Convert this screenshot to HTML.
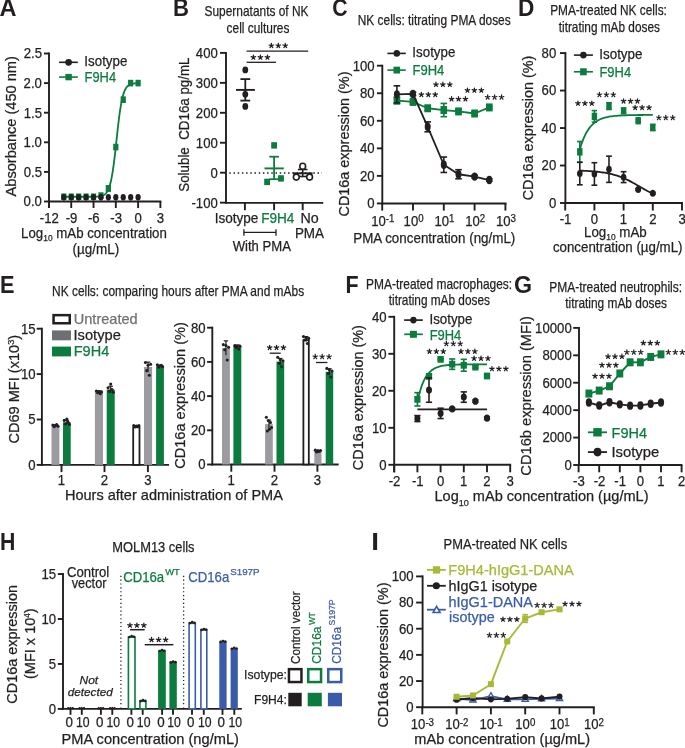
<!DOCTYPE html>
<html><head><meta charset="utf-8"><style>
html,body{margin:0;padding:0;background:#fff;overflow:hidden;}
svg{display:block;font-family:"Liberation Sans", sans-serif;will-change:transform;}
</style></head><body>
<svg width="685" height="748" viewBox="0 0 685 748" fill="#231f20">
<rect width="685" height="748" fill="#fff"/>
<text x="-0.59" y="15.80" font-size="23" textLength="17.01" lengthAdjust="spacingAndGlyphs" font-weight="bold">A</text>
<line x1="49.00" y1="52.55" x2="49.00" y2="202.45" stroke="#231f20" stroke-width="1.9"/>
<line x1="44.00" y1="201.50" x2="49.00" y2="201.50" stroke="#231f20" stroke-width="1.9"/>
<text x="23.62" y="206.40" font-size="14.0" textLength="18.29" lengthAdjust="spacingAndGlyphs" stroke="#231f20" stroke-width="0.25">0.0</text>
<line x1="44.00" y1="171.90" x2="49.00" y2="171.90" stroke="#231f20" stroke-width="1.9"/>
<text x="23.66" y="176.80" font-size="14.0" textLength="18.29" lengthAdjust="spacingAndGlyphs" stroke="#231f20" stroke-width="0.25">0.5</text>
<line x1="44.00" y1="142.30" x2="49.00" y2="142.30" stroke="#231f20" stroke-width="1.9"/>
<text x="23.62" y="147.20" font-size="14.0" textLength="18.29" lengthAdjust="spacingAndGlyphs" stroke="#231f20" stroke-width="0.25">1.0</text>
<line x1="44.00" y1="112.70" x2="49.00" y2="112.70" stroke="#231f20" stroke-width="1.9"/>
<text x="23.66" y="117.60" font-size="14.0" textLength="18.29" lengthAdjust="spacingAndGlyphs" stroke="#231f20" stroke-width="0.25">1.5</text>
<line x1="44.00" y1="83.10" x2="49.00" y2="83.10" stroke="#231f20" stroke-width="1.9"/>
<text x="23.62" y="88.00" font-size="14.0" textLength="18.29" lengthAdjust="spacingAndGlyphs" stroke="#231f20" stroke-width="0.25">2.0</text>
<line x1="44.00" y1="53.50" x2="49.00" y2="53.50" stroke="#231f20" stroke-width="1.9"/>
<text x="23.66" y="58.40" font-size="14.0" textLength="18.29" lengthAdjust="spacingAndGlyphs" stroke="#231f20" stroke-width="0.25">2.5</text>
<line x1="49.00" y1="201.50" x2="49.00" y2="208.00" stroke="#231f20" stroke-width="1.9"/>
<line x1="48.05" y1="201.50" x2="161.34" y2="201.50" stroke="#231f20" stroke-width="1.9"/>
<line x1="48.94" y1="201.50" x2="48.94" y2="208.00" stroke="#231f20" stroke-width="1.9"/>
<text x="39.77" y="222.50" font-size="14" textLength="19.02" lengthAdjust="spacingAndGlyphs" stroke="#231f20" stroke-width="0.25">-12</text>
<line x1="71.23" y1="201.50" x2="71.23" y2="208.00" stroke="#231f20" stroke-width="1.9"/>
<text x="65.70" y="222.50" font-size="14" textLength="11.70" lengthAdjust="spacingAndGlyphs" stroke="#231f20" stroke-width="0.25">-9</text>
<line x1="93.52" y1="201.50" x2="93.52" y2="208.00" stroke="#231f20" stroke-width="1.9"/>
<text x="87.97" y="222.50" font-size="14" textLength="11.70" lengthAdjust="spacingAndGlyphs" stroke="#231f20" stroke-width="0.25">-6</text>
<line x1="115.81" y1="201.50" x2="115.81" y2="208.00" stroke="#231f20" stroke-width="1.9"/>
<text x="110.26" y="222.50" font-size="14" textLength="11.70" lengthAdjust="spacingAndGlyphs" stroke="#231f20" stroke-width="0.25">-3</text>
<line x1="138.10" y1="201.50" x2="138.10" y2="208.00" stroke="#231f20" stroke-width="1.9"/>
<text x="134.44" y="222.50" font-size="14" textLength="7.32" lengthAdjust="spacingAndGlyphs" stroke="#231f20" stroke-width="0.25">0</text>
<line x1="160.39" y1="201.50" x2="160.39" y2="208.00" stroke="#231f20" stroke-width="1.9"/>
<text x="156.77" y="222.50" font-size="14" textLength="7.32" lengthAdjust="spacingAndGlyphs" stroke="#231f20" stroke-width="0.25">3</text>
<text x="21.11" y="237.50" font-size="14.4" textLength="145.75" lengthAdjust="spacingAndGlyphs" stroke="#231f20" stroke-width="0.25"><tspan>Log</tspan><tspan font-size="9.07" dy="3.90">10</tspan><tspan dy="-3.90"> mAb concentration</tspan></text>
<text x="72.56" y="253.60" font-size="14.4" textLength="46.67" lengthAdjust="spacingAndGlyphs" stroke="#231f20" stroke-width="0.25">(µg/mL)</text>
<text x="16.10" y="196.43" font-size="14.8" textLength="140.33" lengthAdjust="spacingAndGlyphs" transform="rotate(-90 16.10 196.43)" stroke="#231f20" stroke-width="0.25">Absorbance (450 nm)</text>
<polyline points="63.80,196.76 64.17,196.76 64.54,196.76 64.91,196.76 65.29,196.76 65.66,196.76 66.03,196.76 66.40,196.76 66.77,196.76 67.14,196.76 67.52,196.76 67.89,196.76 68.26,196.76 68.63,196.76 69.00,196.76 69.37,196.76 69.74,196.76 70.12,196.76 70.49,196.76 70.86,196.76 71.23,196.76 71.60,196.76 71.97,196.76 72.34,196.76 72.72,196.76 73.09,196.76 73.46,196.76 73.83,196.76 74.20,196.76 74.57,196.76 74.94,196.76 75.32,196.76 75.69,196.76 76.06,196.76 76.43,196.76 76.80,196.76 77.17,196.76 77.55,196.76 77.92,196.76 78.29,196.76 78.66,196.76 79.03,196.76 79.40,196.76 79.77,196.76 80.15,196.76 80.52,196.76 80.89,196.76 81.26,196.76 81.63,196.76 82.00,196.76 82.38,196.76 82.75,196.76 83.12,196.76 83.49,196.76 83.86,196.76 84.23,196.76 84.60,196.76 84.98,196.76 85.35,196.76 85.72,196.76 86.09,196.76 86.46,196.76 86.83,196.76 87.20,196.76 87.58,196.75 87.95,196.75 88.32,196.75 88.69,196.75 89.06,196.75 89.43,196.75 89.80,196.75 90.18,196.74 90.55,196.74 90.92,196.74 91.29,196.73 91.66,196.73 92.03,196.73 92.41,196.72 92.78,196.71 93.15,196.71 93.52,196.70 93.89,196.69 94.26,196.68 94.63,196.67 95.01,196.66 95.38,196.65 95.75,196.63 96.12,196.62 96.49,196.60 96.86,196.58 97.23,196.55 97.61,196.53 97.98,196.50 98.35,196.46 98.72,196.42 99.09,196.38 99.46,196.33 99.84,196.27 100.21,196.21 100.58,196.14 100.95,196.06 101.32,195.97 101.69,195.87 102.06,195.75 102.44,195.63 102.81,195.48 103.18,195.32 103.55,195.14 103.92,194.93 104.29,194.70 104.66,194.44 105.04,194.15 105.41,193.82 105.78,193.45 106.15,193.04 106.52,192.58 106.89,192.06 107.27,191.49 107.64,190.84 108.01,190.13 108.38,189.33 108.75,188.44 109.12,187.46 109.49,186.38 109.87,185.18 110.24,183.86 110.61,182.41 110.98,180.82 111.35,179.09 111.72,177.21 112.09,175.18 112.47,172.99 112.84,170.63 113.21,168.12 113.58,165.45 113.95,162.64 114.32,159.68 114.70,156.60 115.07,153.41 115.44,150.13 115.81,146.77 116.18,143.36 116.55,139.93 116.92,136.50 117.30,133.10 117.67,129.74 118.04,126.45 118.41,123.26 118.78,120.18 119.15,117.23 119.52,114.41 119.90,111.74 120.27,109.23 120.64,106.88 121.01,104.69 121.38,102.65 121.75,100.77 122.13,99.04 122.50,97.45 122.87,96.01 123.24,94.69 123.61,93.49 123.98,92.40 124.35,91.42 124.73,90.53 125.10,89.74 125.47,89.02 125.84,88.38 126.21,87.80 126.58,87.29 126.95,86.83 127.33,86.41 127.70,86.05 128.07,85.72 128.44,85.43 128.81,85.17 129.18,84.93 129.56,84.73 129.93,84.55 130.30,84.38 130.67,84.24 131.04,84.11 131.41,84.00 131.78,83.89 132.16,83.80 132.53,83.72 132.90,83.65 133.27,83.59 133.64,83.54 134.01,83.49 134.38,83.44 134.76,83.40 135.13,83.37 135.50,83.34 135.87,83.31 136.24,83.29 136.61,83.27 136.99,83.25 137.36,83.23 137.73,83.22 138.10,83.20" fill="none" stroke="#0b7b3e" stroke-width="1.8" stroke-linejoin="round"/>
<rect x="61.20" y="193.46" width="5.2" height="6.6" fill="#0b7b3e"/>
<rect x="68.63" y="193.46" width="5.2" height="6.6" fill="#0b7b3e"/>
<rect x="76.06" y="193.46" width="5.2" height="6.6" fill="#0b7b3e"/>
<rect x="83.49" y="193.46" width="5.2" height="6.6" fill="#0b7b3e"/>
<rect x="90.92" y="193.46" width="5.2" height="6.6" fill="#0b7b3e"/>
<rect x="98.35" y="192.28" width="5.2" height="6.6" fill="#0b7b3e"/>
<rect x="105.78" y="185.18" width="5.2" height="6.6" fill="#0b7b3e"/>
<rect x="113.21" y="143.74" width="5.2" height="6.6" fill="#0b7b3e"/>
<rect x="120.64" y="96.38" width="5.2" height="6.6" fill="#0b7b3e"/>
<rect x="128.07" y="79.80" width="5.2" height="6.6" fill="#0b7b3e"/>
<rect x="135.50" y="79.80" width="5.2" height="6.6" fill="#0b7b3e"/>
<line x1="108.38" y1="186.11" x2="108.38" y2="190.84" stroke="#0b7b3e" stroke-width="1.5"/>
<line x1="105.78" y1="186.11" x2="110.98" y2="186.11" stroke="#0b7b3e" stroke-width="1.5"/>
<line x1="105.78" y1="190.84" x2="110.98" y2="190.84" stroke="#0b7b3e" stroke-width="1.5"/>
<ellipse cx="63.80" cy="197.36" rx="2.6" ry="3.3" fill="#231f20"/>
<ellipse cx="71.23" cy="197.36" rx="2.6" ry="3.3" fill="#231f20"/>
<ellipse cx="78.66" cy="197.36" rx="2.6" ry="3.3" fill="#231f20"/>
<ellipse cx="86.09" cy="197.36" rx="2.6" ry="3.3" fill="#231f20"/>
<ellipse cx="93.52" cy="197.36" rx="2.6" ry="3.3" fill="#231f20"/>
<ellipse cx="100.95" cy="197.36" rx="2.6" ry="3.3" fill="#231f20"/>
<ellipse cx="108.38" cy="197.36" rx="2.6" ry="3.3" fill="#231f20"/>
<ellipse cx="115.81" cy="197.36" rx="2.6" ry="3.3" fill="#231f20"/>
<ellipse cx="123.24" cy="197.36" rx="2.6" ry="3.3" fill="#231f20"/>
<ellipse cx="130.67" cy="197.36" rx="2.6" ry="3.3" fill="#231f20"/>
<ellipse cx="138.10" cy="197.36" rx="2.6" ry="3.3" fill="#231f20"/>
<line x1="59.10" y1="62.30" x2="77.80" y2="62.30" stroke="#231f20" stroke-width="1.6"/>
<circle cx="68.60" cy="62.30" r="3.4" fill="#231f20"/>
<text x="84.37" y="65.80" font-size="14.0" textLength="43.02" lengthAdjust="spacingAndGlyphs" stroke="#231f20" stroke-width="0.25">Isotype</text>
<line x1="59.10" y1="77.10" x2="77.80" y2="77.10" stroke="#0b7b3e" stroke-width="1.6"/>
<rect x="65.40" y="73.90" width="6.4" height="6.4" fill="#0b7b3e"/>
<text x="84.54" y="81.80" font-size="14.0" fill="#0b7b3e" textLength="31.54" lengthAdjust="spacingAndGlyphs" stroke="#0b7b3e" stroke-width="0.25">F9H4</text>
<text x="173.12" y="15.80" font-size="23" textLength="15.99" lengthAdjust="spacingAndGlyphs" font-weight="bold">B</text>
<text x="204.56" y="15.60" font-size="14.5" textLength="103.97" lengthAdjust="spacingAndGlyphs" stroke="#231f20" stroke-width="0.25">Supernatants of NK</text>
<text x="226.59" y="32.80" font-size="14.5" textLength="62.84" lengthAdjust="spacingAndGlyphs" stroke="#231f20" stroke-width="0.25">cell cultures</text>
<line x1="226.00" y1="51.95" x2="226.00" y2="203.60" stroke="#231f20" stroke-width="1.9"/>
<line x1="220.00" y1="52.90" x2="226.00" y2="52.90" stroke="#231f20" stroke-width="1.9"/>
<text x="195.86" y="57.80" font-size="14.0" textLength="21.96" lengthAdjust="spacingAndGlyphs" stroke="#231f20" stroke-width="0.25">400</text>
<line x1="220.00" y1="82.85" x2="226.00" y2="82.85" stroke="#231f20" stroke-width="1.9"/>
<text x="195.86" y="87.75" font-size="14.0" textLength="21.96" lengthAdjust="spacingAndGlyphs" stroke="#231f20" stroke-width="0.25">300</text>
<line x1="220.00" y1="112.80" x2="226.00" y2="112.80" stroke="#231f20" stroke-width="1.9"/>
<text x="195.86" y="117.70" font-size="14.0" textLength="21.96" lengthAdjust="spacingAndGlyphs" stroke="#231f20" stroke-width="0.25">200</text>
<line x1="220.00" y1="142.75" x2="226.00" y2="142.75" stroke="#231f20" stroke-width="1.9"/>
<text x="195.86" y="147.65" font-size="14.0" textLength="21.96" lengthAdjust="spacingAndGlyphs" stroke="#231f20" stroke-width="0.25">100</text>
<line x1="220.00" y1="172.70" x2="226.00" y2="172.70" stroke="#231f20" stroke-width="1.9"/>
<text x="210.50" y="177.60" font-size="14.0" textLength="7.32" lengthAdjust="spacingAndGlyphs" stroke="#231f20" stroke-width="0.25">0</text>
<line x1="220.00" y1="202.65" x2="226.00" y2="202.65" stroke="#231f20" stroke-width="1.9"/>
<text x="191.47" y="207.55" font-size="14.0" textLength="26.34" lengthAdjust="spacingAndGlyphs" stroke="#231f20" stroke-width="0.25">-100</text>
<line x1="225.05" y1="202.90" x2="323.25" y2="202.90" stroke="#231f20" stroke-width="1.9"/>
<line x1="244.90" y1="202.90" x2="244.90" y2="210.20" stroke="#231f20" stroke-width="1.9"/>
<line x1="274.10" y1="202.90" x2="274.10" y2="210.20" stroke="#231f20" stroke-width="1.9"/>
<line x1="302.70" y1="202.90" x2="302.70" y2="210.20" stroke="#231f20" stroke-width="1.9"/>
<text x="214.65" y="222.50" font-size="14.0" textLength="43.76" lengthAdjust="spacingAndGlyphs" stroke="#231f20" stroke-width="0.25">Isotype</text>
<text x="261.19" y="222.50" font-size="14.0" fill="#0b7b3e" textLength="33.21" lengthAdjust="spacingAndGlyphs" stroke="#0b7b3e" stroke-width="0.25">F9H4</text>
<text x="300.43" y="222.50" font-size="14.0" textLength="18.27" lengthAdjust="spacingAndGlyphs" stroke="#231f20" stroke-width="0.25">No</text>
<text x="294.90" y="237.80" font-size="14.0" textLength="29.13" lengthAdjust="spacingAndGlyphs" stroke="#231f20" stroke-width="0.25">PMA</text>
<line x1="243.90" y1="232.40" x2="276.00" y2="232.40" stroke="#231f20" stroke-width="1.3"/>
<line x1="243.90" y1="229.20" x2="243.90" y2="235.80" stroke="#231f20" stroke-width="1.3"/>
<line x1="276.00" y1="229.20" x2="276.00" y2="235.80" stroke="#231f20" stroke-width="1.3"/>
<text x="232.64" y="251.10" font-size="14.0" textLength="58.28" lengthAdjust="spacingAndGlyphs" stroke="#231f20" stroke-width="0.25">With PMA</text>
<text x="189.40" y="191.71" font-size="14.6" textLength="134.25" lengthAdjust="spacingAndGlyphs" transform="rotate(-90 189.40 191.71)" stroke="#231f20" stroke-width="0.25">Soluble  CD16a pg/mL</text>
<line x1="229.30" y1="173.10" x2="322.00" y2="173.10" stroke="#231f20" stroke-width="1.5" stroke-dasharray="1.5 2.7"/>
<line x1="246.60" y1="51.20" x2="308.20" y2="51.20" stroke="#231f20" stroke-width="1.3"/>
<path d="M271.36,45.70L271.36,43.35M271.36,45.70L273.59,44.97M271.36,45.70L272.74,47.60M271.36,45.70L269.98,47.60M271.36,45.70L269.12,44.97" stroke="#231f20" stroke-width="1.25" stroke-linecap="round" fill="none"/>
<path d="M278.30,45.70L278.30,43.35M278.30,45.70L280.53,44.97M278.30,45.70L279.68,47.60M278.30,45.70L276.92,47.60M278.30,45.70L276.07,44.97" stroke="#231f20" stroke-width="1.25" stroke-linecap="round" fill="none"/>
<path d="M285.24,45.70L285.24,43.35M285.24,45.70L287.48,44.97M285.24,45.70L286.62,47.60M285.24,45.70L283.86,47.60M285.24,45.70L283.01,44.97" stroke="#231f20" stroke-width="1.25" stroke-linecap="round" fill="none"/>
<line x1="246.60" y1="62.30" x2="276.10" y2="62.30" stroke="#231f20" stroke-width="1.3"/>
<path d="M253.36,57.35L253.36,55.00M253.36,57.35L255.59,56.62M253.36,57.35L254.74,59.25M253.36,57.35L251.98,59.25M253.36,57.35L251.12,56.62" stroke="#231f20" stroke-width="1.25" stroke-linecap="round" fill="none"/>
<path d="M260.40,57.35L260.40,55.00M260.40,57.35L262.63,56.62M260.40,57.35L261.78,59.25M260.40,57.35L259.02,59.25M260.40,57.35L258.17,56.62" stroke="#231f20" stroke-width="1.25" stroke-linecap="round" fill="none"/>
<path d="M267.44,57.35L267.44,55.00M267.44,57.35L269.68,56.62M267.44,57.35L268.82,59.25M267.44,57.35L266.06,59.25M267.44,57.35L265.21,56.62" stroke="#231f20" stroke-width="1.25" stroke-linecap="round" fill="none"/>
<line x1="245.30" y1="79.10" x2="245.30" y2="100.60" stroke="#231f20" stroke-width="1.8"/>
<line x1="240.40" y1="79.10" x2="250.20" y2="79.10" stroke="#231f20" stroke-width="1.8"/>
<line x1="240.40" y1="100.60" x2="250.20" y2="100.60" stroke="#231f20" stroke-width="1.8"/>
<line x1="236.00" y1="89.90" x2="254.90" y2="89.90" stroke="#231f20" stroke-width="1.9"/>
<ellipse cx="245.3" cy="69.9" rx="2.9" ry="3.4" fill="#231f20"/>
<ellipse cx="245.3" cy="94.3" rx="2.9" ry="3.4" fill="#231f20"/>
<ellipse cx="245.3" cy="106.4" rx="2.9" ry="3.4" fill="#231f20"/>
<line x1="274.10" y1="156.70" x2="274.10" y2="179.20" stroke="#0b7b3e" stroke-width="1.8"/>
<line x1="269.30" y1="156.70" x2="278.90" y2="156.70" stroke="#0b7b3e" stroke-width="1.8"/>
<line x1="269.30" y1="179.20" x2="278.90" y2="179.20" stroke="#0b7b3e" stroke-width="1.8"/>
<line x1="264.50" y1="168.40" x2="283.80" y2="168.40" stroke="#0b7b3e" stroke-width="1.9"/>
<rect x="271.20" y="142.20" width="5.8" height="6.4" fill="#0b7b3e"/>
<rect x="264.20" y="178.70" width="5.8" height="6.4" fill="#0b7b3e"/>
<rect x="278.10" y="175.20" width="5.8" height="6.4" fill="#0b7b3e"/>
<line x1="292.80" y1="173.30" x2="312.60" y2="173.30" stroke="#231f20" stroke-width="1.9"/>
<line x1="302.70" y1="169.50" x2="302.70" y2="176.50" stroke="#231f20" stroke-width="1.6"/>
<line x1="297.90" y1="169.50" x2="307.50" y2="169.50" stroke="#231f20" stroke-width="1.6"/>
<line x1="297.90" y1="176.50" x2="307.50" y2="176.50" stroke="#231f20" stroke-width="1.6"/>
<ellipse cx="302.7" cy="166.3" rx="2.9" ry="3.0" fill="white" stroke="#231f20" stroke-width="1.6"/>
<ellipse cx="296.3" cy="177.1" rx="2.9" ry="3.0" fill="white" stroke="#231f20" stroke-width="1.6"/>
<ellipse cx="309.6" cy="177.1" rx="2.9" ry="3.0" fill="white" stroke="#231f20" stroke-width="1.6"/>
<text x="332.33" y="15.80" font-size="23" textLength="15.35" lengthAdjust="spacingAndGlyphs" font-weight="bold">C</text>
<text x="357.73" y="25.10" font-size="14.3" textLength="153.00" lengthAdjust="spacingAndGlyphs" stroke="#231f20" stroke-width="0.25">NK cells: titrating PMA doses</text>
<line x1="382.30" y1="64.75" x2="382.30" y2="204.40" stroke="#231f20" stroke-width="1.9"/>
<line x1="376.90" y1="203.45" x2="382.30" y2="203.45" stroke="#231f20" stroke-width="1.9"/>
<text x="367.30" y="208.35" font-size="14.0" textLength="7.32" lengthAdjust="spacingAndGlyphs" stroke="#231f20" stroke-width="0.25">0</text>
<line x1="376.90" y1="175.90" x2="382.30" y2="175.90" stroke="#231f20" stroke-width="1.9"/>
<text x="359.98" y="180.80" font-size="14.0" textLength="14.64" lengthAdjust="spacingAndGlyphs" stroke="#231f20" stroke-width="0.25">20</text>
<line x1="376.90" y1="148.35" x2="382.30" y2="148.35" stroke="#231f20" stroke-width="1.9"/>
<text x="359.98" y="153.25" font-size="14.0" textLength="14.64" lengthAdjust="spacingAndGlyphs" stroke="#231f20" stroke-width="0.25">40</text>
<line x1="376.90" y1="120.80" x2="382.30" y2="120.80" stroke="#231f20" stroke-width="1.9"/>
<text x="359.98" y="125.70" font-size="14.0" textLength="14.64" lengthAdjust="spacingAndGlyphs" stroke="#231f20" stroke-width="0.25">60</text>
<line x1="376.90" y1="93.25" x2="382.30" y2="93.25" stroke="#231f20" stroke-width="1.9"/>
<text x="359.98" y="98.15" font-size="14.0" textLength="14.64" lengthAdjust="spacingAndGlyphs" stroke="#231f20" stroke-width="0.25">80</text>
<line x1="376.90" y1="65.70" x2="382.30" y2="65.70" stroke="#231f20" stroke-width="1.9"/>
<text x="352.66" y="70.60" font-size="14.0" textLength="21.96" lengthAdjust="spacingAndGlyphs" stroke="#231f20" stroke-width="0.25">100</text>
<line x1="381.35" y1="203.45" x2="506.55" y2="203.45" stroke="#231f20" stroke-width="1.9"/>
<line x1="382.20" y1="203.45" x2="382.20" y2="210.60" stroke="#231f20" stroke-width="1.9"/>
<line x1="413.00" y1="203.45" x2="413.00" y2="210.60" stroke="#231f20" stroke-width="1.9"/>
<line x1="443.80" y1="203.45" x2="443.80" y2="210.60" stroke="#231f20" stroke-width="1.9"/>
<line x1="474.60" y1="203.45" x2="474.60" y2="210.60" stroke="#231f20" stroke-width="1.9"/>
<line x1="505.40" y1="203.45" x2="505.40" y2="210.60" stroke="#231f20" stroke-width="1.9"/>
<text x="371.23" y="225.60" font-size="13.8" textLength="23.21" lengthAdjust="spacingAndGlyphs" stroke="#231f20" stroke-width="0.25"><tspan>10</tspan><tspan font-size="10.21" dy="-3.20">-1</tspan></text>
<text x="403.60" y="225.60" font-size="13.8" textLength="19.98" lengthAdjust="spacingAndGlyphs" stroke="#231f20" stroke-width="0.25"><tspan>10</tspan><tspan font-size="10.21" dy="-3.20">0</tspan></text>
<text x="434.45" y="225.60" font-size="13.8" textLength="19.98" lengthAdjust="spacingAndGlyphs" stroke="#231f20" stroke-width="0.25"><tspan>10</tspan><tspan font-size="10.21" dy="-3.20">1</tspan></text>
<text x="465.26" y="225.60" font-size="13.8" textLength="19.98" lengthAdjust="spacingAndGlyphs" stroke="#231f20" stroke-width="0.25"><tspan>10</tspan><tspan font-size="10.21" dy="-3.20">2</tspan></text>
<text x="496.02" y="225.60" font-size="13.8" textLength="19.98" lengthAdjust="spacingAndGlyphs" stroke="#231f20" stroke-width="0.25"><tspan>10</tspan><tspan font-size="10.21" dy="-3.20">3</tspan></text>
<text x="353.21" y="242.80" font-size="14.4" textLength="162.12" lengthAdjust="spacingAndGlyphs" stroke="#231f20" stroke-width="0.25">PMA concentration (ng/mL)</text>
<text x="348.80" y="216.53" font-size="15.0" textLength="145.03" lengthAdjust="spacingAndGlyphs" transform="rotate(-90 348.80 216.53)" stroke="#231f20" stroke-width="0.25">CD16a expression (%)</text>
<line x1="387.40" y1="53.40" x2="405.80" y2="53.40" stroke="#231f20" stroke-width="1.6"/>
<ellipse cx="396.80" cy="53.40" rx="3.2" ry="3.3" fill="#231f20"/>
<text x="412.37" y="56.90" font-size="14.0" textLength="43.02" lengthAdjust="spacingAndGlyphs" stroke="#231f20" stroke-width="0.25">Isotype</text>
<line x1="387.40" y1="70.10" x2="405.80" y2="70.10" stroke="#0b7b3e" stroke-width="1.6"/>
<rect x="393.50" y="66.70" width="6.6" height="6.8" fill="#0b7b3e"/>
<text x="412.53" y="75.30" font-size="14.0" fill="#0b7b3e" textLength="31.85" lengthAdjust="spacingAndGlyphs" stroke="#0b7b3e" stroke-width="0.25">F9H4</text>
<polyline points="396.90,100.55 413.00,101.93 427.70,108.26 443.80,110.06 458.50,111.43 474.60,113.50 489.30,107.44" fill="none" stroke="#0b7b3e" stroke-width="1.8" stroke-linejoin="round"/>
<line x1="396.90" y1="97.52" x2="396.90" y2="103.58" stroke="#0b7b3e" stroke-width="1.6"/>
<line x1="393.60" y1="97.52" x2="400.20" y2="97.52" stroke="#0b7b3e" stroke-width="1.6"/>
<line x1="393.60" y1="103.58" x2="400.20" y2="103.58" stroke="#0b7b3e" stroke-width="1.6"/>
<rect x="393.60" y="96.55" width="6.6" height="8.0" fill="#0b7b3e"/>
<line x1="413.00" y1="99.86" x2="413.00" y2="103.99" stroke="#0b7b3e" stroke-width="1.6"/>
<line x1="409.70" y1="99.86" x2="416.30" y2="99.86" stroke="#0b7b3e" stroke-width="1.6"/>
<line x1="409.70" y1="103.99" x2="416.30" y2="103.99" stroke="#0b7b3e" stroke-width="1.6"/>
<rect x="409.70" y="97.93" width="6.6" height="8.0" fill="#0b7b3e"/>
<line x1="427.70" y1="106.20" x2="427.70" y2="110.33" stroke="#0b7b3e" stroke-width="1.6"/>
<line x1="424.40" y1="106.20" x2="431.00" y2="106.20" stroke="#0b7b3e" stroke-width="1.6"/>
<line x1="424.40" y1="110.33" x2="431.00" y2="110.33" stroke="#0b7b3e" stroke-width="1.6"/>
<rect x="424.40" y="104.26" width="6.6" height="8.0" fill="#0b7b3e"/>
<line x1="443.80" y1="103.44" x2="443.80" y2="116.67" stroke="#0b7b3e" stroke-width="1.6"/>
<line x1="440.50" y1="103.44" x2="447.10" y2="103.44" stroke="#0b7b3e" stroke-width="1.6"/>
<line x1="440.50" y1="116.67" x2="447.10" y2="116.67" stroke="#0b7b3e" stroke-width="1.6"/>
<rect x="440.50" y="106.06" width="6.6" height="8.0" fill="#0b7b3e"/>
<line x1="458.50" y1="109.37" x2="458.50" y2="113.50" stroke="#0b7b3e" stroke-width="1.6"/>
<line x1="455.20" y1="109.37" x2="461.80" y2="109.37" stroke="#0b7b3e" stroke-width="1.6"/>
<line x1="455.20" y1="113.50" x2="461.80" y2="113.50" stroke="#0b7b3e" stroke-width="1.6"/>
<rect x="455.20" y="107.43" width="6.6" height="8.0" fill="#0b7b3e"/>
<line x1="474.60" y1="111.43" x2="474.60" y2="115.57" stroke="#0b7b3e" stroke-width="1.6"/>
<line x1="471.30" y1="111.43" x2="477.90" y2="111.43" stroke="#0b7b3e" stroke-width="1.6"/>
<line x1="471.30" y1="115.57" x2="477.90" y2="115.57" stroke="#0b7b3e" stroke-width="1.6"/>
<rect x="471.30" y="109.50" width="6.6" height="8.0" fill="#0b7b3e"/>
<line x1="489.30" y1="106.06" x2="489.30" y2="108.82" stroke="#0b7b3e" stroke-width="1.6"/>
<line x1="486.00" y1="106.06" x2="492.60" y2="106.06" stroke="#0b7b3e" stroke-width="1.6"/>
<line x1="486.00" y1="108.82" x2="492.60" y2="108.82" stroke="#0b7b3e" stroke-width="1.6"/>
<rect x="486.00" y="103.44" width="6.6" height="8.0" fill="#0b7b3e"/>
<polyline points="396.90,94.35 413.00,93.94 427.70,126.86 443.80,164.74 458.50,174.25 474.60,176.59 489.30,180.03" fill="none" stroke="#231f20" stroke-width="1.8" stroke-linejoin="round"/>
<line x1="396.90" y1="85.81" x2="396.90" y2="102.89" stroke="#231f20" stroke-width="1.6"/>
<line x1="393.60" y1="85.81" x2="400.20" y2="85.81" stroke="#231f20" stroke-width="1.6"/>
<line x1="393.60" y1="102.89" x2="400.20" y2="102.89" stroke="#231f20" stroke-width="1.6"/>
<ellipse cx="396.90" cy="94.35" rx="3.0" ry="4.2" fill="#231f20"/>
<line x1="413.00" y1="92.29" x2="413.00" y2="95.59" stroke="#231f20" stroke-width="1.6"/>
<line x1="409.70" y1="92.29" x2="416.30" y2="92.29" stroke="#231f20" stroke-width="1.6"/>
<line x1="409.70" y1="95.59" x2="416.30" y2="95.59" stroke="#231f20" stroke-width="1.6"/>
<ellipse cx="413.00" cy="93.94" rx="3.0" ry="4.2" fill="#231f20"/>
<line x1="427.70" y1="121.90" x2="427.70" y2="131.82" stroke="#231f20" stroke-width="1.6"/>
<line x1="424.40" y1="121.90" x2="431.00" y2="121.90" stroke="#231f20" stroke-width="1.6"/>
<line x1="424.40" y1="131.82" x2="431.00" y2="131.82" stroke="#231f20" stroke-width="1.6"/>
<ellipse cx="427.70" cy="126.86" rx="3.0" ry="4.2" fill="#231f20"/>
<line x1="443.80" y1="157.03" x2="443.80" y2="172.46" stroke="#231f20" stroke-width="1.6"/>
<line x1="440.50" y1="157.03" x2="447.10" y2="157.03" stroke="#231f20" stroke-width="1.6"/>
<line x1="440.50" y1="172.46" x2="447.10" y2="172.46" stroke="#231f20" stroke-width="1.6"/>
<ellipse cx="443.80" cy="164.74" rx="3.0" ry="4.2" fill="#231f20"/>
<line x1="458.50" y1="169.70" x2="458.50" y2="178.79" stroke="#231f20" stroke-width="1.6"/>
<line x1="455.20" y1="169.70" x2="461.80" y2="169.70" stroke="#231f20" stroke-width="1.6"/>
<line x1="455.20" y1="178.79" x2="461.80" y2="178.79" stroke="#231f20" stroke-width="1.6"/>
<ellipse cx="458.50" cy="174.25" rx="3.0" ry="4.2" fill="#231f20"/>
<line x1="474.60" y1="175.21" x2="474.60" y2="177.97" stroke="#231f20" stroke-width="1.6"/>
<line x1="471.30" y1="175.21" x2="477.90" y2="175.21" stroke="#231f20" stroke-width="1.6"/>
<line x1="471.30" y1="177.97" x2="477.90" y2="177.97" stroke="#231f20" stroke-width="1.6"/>
<ellipse cx="474.60" cy="176.59" rx="3.0" ry="4.2" fill="#231f20"/>
<line x1="489.30" y1="178.93" x2="489.30" y2="181.13" stroke="#231f20" stroke-width="1.6"/>
<line x1="486.00" y1="178.93" x2="492.60" y2="178.93" stroke="#231f20" stroke-width="1.6"/>
<line x1="486.00" y1="181.13" x2="492.60" y2="181.13" stroke="#231f20" stroke-width="1.6"/>
<ellipse cx="489.30" cy="180.03" rx="3.0" ry="4.2" fill="#231f20"/>
<path d="M421.36,94.65L421.36,92.30M421.36,94.65L423.59,93.92M421.36,94.65L422.74,96.55M421.36,94.65L419.98,96.55M421.36,94.65L419.12,93.92" stroke="#231f20" stroke-width="1.25" stroke-linecap="round" fill="none"/>
<path d="M428.30,94.65L428.30,92.30M428.30,94.65L430.53,93.92M428.30,94.65L429.68,96.55M428.30,94.65L426.92,96.55M428.30,94.65L426.07,93.92" stroke="#231f20" stroke-width="1.25" stroke-linecap="round" fill="none"/>
<path d="M435.24,94.65L435.24,92.30M435.24,94.65L437.48,93.92M435.24,94.65L436.62,96.55M435.24,94.65L433.86,96.55M435.24,94.65L433.01,93.92" stroke="#231f20" stroke-width="1.25" stroke-linecap="round" fill="none"/>
<path d="M435.96,84.55L435.96,82.20M435.96,84.55L438.19,83.82M435.96,84.55L437.34,86.45M435.96,84.55L434.58,86.45M435.96,84.55L433.72,83.82" stroke="#231f20" stroke-width="1.25" stroke-linecap="round" fill="none"/>
<path d="M442.90,84.55L442.90,82.20M442.90,84.55L445.13,83.82M442.90,84.55L444.28,86.45M442.90,84.55L441.52,86.45M442.90,84.55L440.67,83.82" stroke="#231f20" stroke-width="1.25" stroke-linecap="round" fill="none"/>
<path d="M449.84,84.55L449.84,82.20M449.84,84.55L452.08,83.82M449.84,84.55L451.22,86.45M449.84,84.55L448.46,86.45M449.84,84.55L447.61,83.82" stroke="#231f20" stroke-width="1.25" stroke-linecap="round" fill="none"/>
<path d="M451.56,99.05L451.56,96.70M451.56,99.05L453.79,98.32M451.56,99.05L452.94,100.95M451.56,99.05L450.18,100.95M451.56,99.05L449.32,98.32" stroke="#231f20" stroke-width="1.25" stroke-linecap="round" fill="none"/>
<path d="M458.50,99.05L458.50,96.70M458.50,99.05L460.73,98.32M458.50,99.05L459.88,100.95M458.50,99.05L457.12,100.95M458.50,99.05L456.27,98.32" stroke="#231f20" stroke-width="1.25" stroke-linecap="round" fill="none"/>
<path d="M465.44,99.05L465.44,96.70M465.44,99.05L467.68,98.32M465.44,99.05L466.82,100.95M465.44,99.05L464.06,100.95M465.44,99.05L463.21,98.32" stroke="#231f20" stroke-width="1.25" stroke-linecap="round" fill="none"/>
<path d="M467.46,90.35L467.46,88.00M467.46,90.35L469.69,89.62M467.46,90.35L468.84,92.25M467.46,90.35L466.08,92.25M467.46,90.35L465.22,89.62" stroke="#231f20" stroke-width="1.25" stroke-linecap="round" fill="none"/>
<path d="M474.40,90.35L474.40,88.00M474.40,90.35L476.63,89.62M474.40,90.35L475.78,92.25M474.40,90.35L473.02,92.25M474.40,90.35L472.17,89.62" stroke="#231f20" stroke-width="1.25" stroke-linecap="round" fill="none"/>
<path d="M481.34,90.35L481.34,88.00M481.34,90.35L483.58,89.62M481.34,90.35L482.72,92.25M481.34,90.35L479.96,92.25M481.34,90.35L479.11,89.62" stroke="#231f20" stroke-width="1.25" stroke-linecap="round" fill="none"/>
<path d="M487.66,97.25L487.66,94.90M487.66,97.25L489.89,96.52M487.66,97.25L489.04,99.15M487.66,97.25L486.28,99.15M487.66,97.25L485.42,96.52" stroke="#231f20" stroke-width="1.25" stroke-linecap="round" fill="none"/>
<path d="M494.60,97.25L494.60,94.90M494.60,97.25L496.83,96.52M494.60,97.25L495.98,99.15M494.60,97.25L493.22,99.15M494.60,97.25L492.37,96.52" stroke="#231f20" stroke-width="1.25" stroke-linecap="round" fill="none"/>
<path d="M501.54,97.25L501.54,94.90M501.54,97.25L503.78,96.52M501.54,97.25L502.92,99.15M501.54,97.25L500.16,99.15M501.54,97.25L499.31,96.52" stroke="#231f20" stroke-width="1.25" stroke-linecap="round" fill="none"/>
<text x="517.98" y="15.80" font-size="23" textLength="16.37" lengthAdjust="spacingAndGlyphs" font-weight="bold">D</text>
<text x="550.13" y="14.70" font-size="14.3" textLength="116.76" lengthAdjust="spacingAndGlyphs" stroke="#231f20" stroke-width="0.25">PMA-treated NK cells:</text>
<text x="558.72" y="32.00" font-size="14.3" textLength="101.21" lengthAdjust="spacingAndGlyphs" stroke="#231f20" stroke-width="0.25">titrating mAb doses</text>
<line x1="565.40" y1="52.13" x2="565.40" y2="203.95" stroke="#231f20" stroke-width="1.9"/>
<line x1="560.00" y1="203.00" x2="565.40" y2="203.00" stroke="#231f20" stroke-width="1.9"/>
<text x="548.90" y="207.90" font-size="14.0" textLength="7.32" lengthAdjust="spacingAndGlyphs" stroke="#231f20" stroke-width="0.25">0</text>
<line x1="560.00" y1="165.52" x2="565.40" y2="165.52" stroke="#231f20" stroke-width="1.9"/>
<text x="541.58" y="170.42" font-size="14.0" textLength="14.64" lengthAdjust="spacingAndGlyphs" stroke="#231f20" stroke-width="0.25">20</text>
<line x1="560.00" y1="128.04" x2="565.40" y2="128.04" stroke="#231f20" stroke-width="1.9"/>
<text x="541.58" y="132.94" font-size="14.0" textLength="14.64" lengthAdjust="spacingAndGlyphs" stroke="#231f20" stroke-width="0.25">40</text>
<line x1="560.00" y1="90.56" x2="565.40" y2="90.56" stroke="#231f20" stroke-width="1.9"/>
<text x="541.58" y="95.46" font-size="14.0" textLength="14.64" lengthAdjust="spacingAndGlyphs" stroke="#231f20" stroke-width="0.25">60</text>
<line x1="560.00" y1="53.08" x2="565.40" y2="53.08" stroke="#231f20" stroke-width="1.9"/>
<text x="541.58" y="57.98" font-size="14.0" textLength="14.64" lengthAdjust="spacingAndGlyphs" stroke="#231f20" stroke-width="0.25">80</text>
<line x1="564.45" y1="203.00" x2="682.95" y2="203.00" stroke="#231f20" stroke-width="1.9"/>
<line x1="565.20" y1="203.00" x2="565.20" y2="210.50" stroke="#231f20" stroke-width="1.9"/>
<text x="559.68" y="223.50" font-size="14.0" textLength="11.70" lengthAdjust="spacingAndGlyphs" stroke="#231f20" stroke-width="0.25">-1</text>
<line x1="594.40" y1="203.00" x2="594.40" y2="210.50" stroke="#231f20" stroke-width="1.9"/>
<text x="590.74" y="223.50" font-size="14.0" textLength="7.32" lengthAdjust="spacingAndGlyphs" stroke="#231f20" stroke-width="0.25">0</text>
<line x1="623.60" y1="203.00" x2="623.60" y2="210.50" stroke="#231f20" stroke-width="1.9"/>
<text x="619.76" y="223.50" font-size="14.0" textLength="7.32" lengthAdjust="spacingAndGlyphs" stroke="#231f20" stroke-width="0.25">1</text>
<line x1="652.80" y1="203.00" x2="652.80" y2="210.50" stroke="#231f20" stroke-width="1.9"/>
<text x="649.14" y="223.50" font-size="14.0" textLength="7.32" lengthAdjust="spacingAndGlyphs" stroke="#231f20" stroke-width="0.25">2</text>
<line x1="682.00" y1="203.00" x2="682.00" y2="210.50" stroke="#231f20" stroke-width="1.9"/>
<text x="678.38" y="223.50" font-size="14.0" textLength="7.32" lengthAdjust="spacingAndGlyphs" stroke="#231f20" stroke-width="0.25">3</text>
<text x="584.01" y="236.50" font-size="14.4" textLength="62.75" lengthAdjust="spacingAndGlyphs" stroke="#231f20" stroke-width="0.25"><tspan>Log</tspan><tspan font-size="9.07" dy="3.90">10</tspan><tspan dy="-3.90"> mAb</tspan></text>
<text x="552.94" y="251.60" font-size="14.4" textLength="129.59" lengthAdjust="spacingAndGlyphs" stroke="#231f20" stroke-width="0.25">concentration (µg/mL)</text>
<text x="533.20" y="200.33" font-size="15.0" textLength="144.72" lengthAdjust="spacingAndGlyphs" transform="rotate(-90 533.20 200.33)" stroke="#231f20" stroke-width="0.25">CD16a expression (%)</text>
<line x1="573.90" y1="55.10" x2="592.90" y2="55.10" stroke="#231f20" stroke-width="1.6"/>
<ellipse cx="583.40" cy="55.10" rx="3.3" ry="3.4" fill="#231f20"/>
<text x="599.26" y="59.10" font-size="14.0" textLength="43.23" lengthAdjust="spacingAndGlyphs" stroke="#231f20" stroke-width="0.25">Isotype</text>
<line x1="573.90" y1="71.80" x2="592.90" y2="71.80" stroke="#0b7b3e" stroke-width="1.6"/>
<rect x="580.10" y="68.30" width="6.6" height="7.0" fill="#0b7b3e"/>
<text x="599.44" y="76.80" font-size="14.0" fill="#0b7b3e" textLength="31.64" lengthAdjust="spacingAndGlyphs" stroke="#0b7b3e" stroke-width="0.25">F9H4</text>
<polyline points="579.80,170.67 581.26,170.72 582.72,170.77 584.18,170.83 585.64,170.90 587.10,170.97 588.56,171.05 590.02,171.15 591.48,171.24 592.94,171.35 594.40,171.47 595.86,171.61 597.32,171.75 598.78,171.91 600.24,172.09 601.70,172.28 603.16,172.49 604.62,172.72 606.08,172.98 607.54,173.25 609.00,173.55 610.46,173.87 611.92,174.22 613.38,174.60 614.84,175.01 616.30,175.45 617.76,175.93 619.22,176.43 620.68,176.97 622.14,177.55 623.60,178.15 625.06,178.79 626.52,179.47 627.98,180.17 629.44,180.90 630.90,181.66 632.36,182.45 633.82,183.25 635.28,184.07 636.74,184.91 638.20,185.75 639.66,186.60 641.12,187.45 642.58,188.30 644.04,189.13 645.50,189.95 646.96,190.76 648.42,191.54 649.88,192.30 651.34,193.03 652.80,193.74" fill="none" stroke="#231f20" stroke-width="1.8" stroke-linejoin="round"/>
<polyline points="579.80,149.40 581.26,144.67 582.72,140.59 584.18,137.07 585.64,134.04 587.10,131.41 588.56,129.15 590.02,127.20 591.48,125.52 592.94,124.06 594.40,122.81 595.86,121.73 597.32,120.80 598.78,119.99 600.24,119.29 601.70,118.70 603.16,118.18 604.62,117.73 606.08,117.35 607.54,117.01 609.00,116.73 610.46,116.48 611.92,116.27 613.38,116.08 614.84,115.92 616.30,115.79 617.76,115.67 619.22,115.56 620.68,115.48 622.14,115.40 623.60,115.33 625.06,115.28 626.52,115.23 627.98,115.19 629.44,115.15 630.90,115.12 632.36,115.09 633.82,115.07 635.28,115.05 636.74,115.03 638.20,115.02 639.66,115.00 641.12,114.99 642.58,114.98 644.04,114.97 645.50,114.97 646.96,114.96 648.42,114.96 649.88,114.95 651.34,114.95 652.80,114.94" fill="none" stroke="#0b7b3e" stroke-width="1.8" stroke-linejoin="round"/>
<line x1="579.80" y1="141.53" x2="579.80" y2="162.15" stroke="#0b7b3e" stroke-width="1.6"/>
<line x1="577.10" y1="141.53" x2="582.50" y2="141.53" stroke="#0b7b3e" stroke-width="1.6"/>
<line x1="577.10" y1="162.15" x2="582.50" y2="162.15" stroke="#0b7b3e" stroke-width="1.6"/>
<rect x="577.10" y="148.14" width="5.4" height="7.4" fill="#0b7b3e"/>
<line x1="594.40" y1="110.61" x2="594.40" y2="122.23" stroke="#0b7b3e" stroke-width="1.6"/>
<line x1="591.70" y1="110.61" x2="597.10" y2="110.61" stroke="#0b7b3e" stroke-width="1.6"/>
<line x1="591.70" y1="122.23" x2="597.10" y2="122.23" stroke="#0b7b3e" stroke-width="1.6"/>
<rect x="591.70" y="112.72" width="5.4" height="7.4" fill="#0b7b3e"/>
<line x1="609.00" y1="102.74" x2="609.00" y2="109.49" stroke="#0b7b3e" stroke-width="1.6"/>
<line x1="606.30" y1="102.74" x2="611.70" y2="102.74" stroke="#0b7b3e" stroke-width="1.6"/>
<line x1="606.30" y1="109.49" x2="611.70" y2="109.49" stroke="#0b7b3e" stroke-width="1.6"/>
<rect x="606.30" y="102.41" width="5.4" height="7.4" fill="#0b7b3e"/>
<line x1="623.60" y1="108.55" x2="623.60" y2="113.05" stroke="#0b7b3e" stroke-width="1.6"/>
<line x1="620.90" y1="108.55" x2="626.30" y2="108.55" stroke="#0b7b3e" stroke-width="1.6"/>
<line x1="620.90" y1="113.05" x2="626.30" y2="113.05" stroke="#0b7b3e" stroke-width="1.6"/>
<rect x="620.90" y="107.10" width="5.4" height="7.4" fill="#0b7b3e"/>
<line x1="638.20" y1="119.61" x2="638.20" y2="121.86" stroke="#0b7b3e" stroke-width="1.6"/>
<line x1="635.50" y1="119.61" x2="640.90" y2="119.61" stroke="#0b7b3e" stroke-width="1.6"/>
<line x1="635.50" y1="121.86" x2="640.90" y2="121.86" stroke="#0b7b3e" stroke-width="1.6"/>
<rect x="635.50" y="117.03" width="5.4" height="7.4" fill="#0b7b3e"/>
<line x1="652.80" y1="124.48" x2="652.80" y2="130.48" stroke="#0b7b3e" stroke-width="1.6"/>
<line x1="650.10" y1="124.48" x2="655.50" y2="124.48" stroke="#0b7b3e" stroke-width="1.6"/>
<line x1="650.10" y1="130.48" x2="655.50" y2="130.48" stroke="#0b7b3e" stroke-width="1.6"/>
<rect x="650.10" y="123.78" width="5.4" height="7.4" fill="#0b7b3e"/>
<line x1="579.80" y1="162.33" x2="579.80" y2="184.82" stroke="#231f20" stroke-width="1.6"/>
<line x1="576.90" y1="162.33" x2="582.70" y2="162.33" stroke="#231f20" stroke-width="1.6"/>
<line x1="576.90" y1="184.82" x2="582.70" y2="184.82" stroke="#231f20" stroke-width="1.6"/>
<ellipse cx="579.80" cy="173.58" rx="2.8" ry="3.5" fill="#231f20"/>
<line x1="594.40" y1="162.71" x2="594.40" y2="185.20" stroke="#231f20" stroke-width="1.6"/>
<line x1="591.50" y1="162.71" x2="597.30" y2="162.71" stroke="#231f20" stroke-width="1.6"/>
<line x1="591.50" y1="185.20" x2="597.30" y2="185.20" stroke="#231f20" stroke-width="1.6"/>
<ellipse cx="594.40" cy="173.95" rx="2.8" ry="3.5" fill="#231f20"/>
<line x1="609.00" y1="156.15" x2="609.00" y2="182.39" stroke="#231f20" stroke-width="1.6"/>
<line x1="606.10" y1="156.15" x2="611.90" y2="156.15" stroke="#231f20" stroke-width="1.6"/>
<line x1="606.10" y1="182.39" x2="611.90" y2="182.39" stroke="#231f20" stroke-width="1.6"/>
<ellipse cx="609.00" cy="169.27" rx="2.8" ry="3.5" fill="#231f20"/>
<line x1="623.60" y1="171.70" x2="623.60" y2="182.57" stroke="#231f20" stroke-width="1.6"/>
<line x1="620.70" y1="171.70" x2="626.50" y2="171.70" stroke="#231f20" stroke-width="1.6"/>
<line x1="620.70" y1="182.57" x2="626.50" y2="182.57" stroke="#231f20" stroke-width="1.6"/>
<ellipse cx="623.60" cy="177.14" rx="2.8" ry="3.5" fill="#231f20"/>
<line x1="638.20" y1="188.57" x2="638.20" y2="190.44" stroke="#231f20" stroke-width="1.6"/>
<line x1="635.30" y1="188.57" x2="641.10" y2="188.57" stroke="#231f20" stroke-width="1.6"/>
<line x1="635.30" y1="190.44" x2="641.10" y2="190.44" stroke="#231f20" stroke-width="1.6"/>
<ellipse cx="638.20" cy="189.51" rx="2.8" ry="3.5" fill="#231f20"/>
<line x1="652.80" y1="192.32" x2="652.80" y2="194.19" stroke="#231f20" stroke-width="1.6"/>
<line x1="649.90" y1="192.32" x2="655.70" y2="192.32" stroke="#231f20" stroke-width="1.6"/>
<line x1="649.90" y1="194.19" x2="655.70" y2="194.19" stroke="#231f20" stroke-width="1.6"/>
<ellipse cx="652.80" cy="193.26" rx="2.8" ry="3.5" fill="#231f20"/>
<path d="M577.96,103.35L577.96,101.00M577.96,103.35L580.19,102.62M577.96,103.35L579.34,105.25M577.96,103.35L576.58,105.25M577.96,103.35L575.72,102.62" stroke="#231f20" stroke-width="1.25" stroke-linecap="round" fill="none"/>
<path d="M584.90,103.35L584.90,101.00M584.90,103.35L587.13,102.62M584.90,103.35L586.28,105.25M584.90,103.35L583.52,105.25M584.90,103.35L582.67,102.62" stroke="#231f20" stroke-width="1.25" stroke-linecap="round" fill="none"/>
<path d="M591.84,103.35L591.84,101.00M591.84,103.35L594.08,102.62M591.84,103.35L593.22,105.25M591.84,103.35L590.46,105.25M591.84,103.35L589.61,102.62" stroke="#231f20" stroke-width="1.25" stroke-linecap="round" fill="none"/>
<path d="M599.46,94.75L599.46,92.40M599.46,94.75L601.69,94.02M599.46,94.75L600.84,96.65M599.46,94.75L598.08,96.65M599.46,94.75L597.22,94.02" stroke="#231f20" stroke-width="1.25" stroke-linecap="round" fill="none"/>
<path d="M606.40,94.75L606.40,92.40M606.40,94.75L608.63,94.02M606.40,94.75L607.78,96.65M606.40,94.75L605.02,96.65M606.40,94.75L604.17,94.02" stroke="#231f20" stroke-width="1.25" stroke-linecap="round" fill="none"/>
<path d="M613.34,94.75L613.34,92.40M613.34,94.75L615.58,94.02M613.34,94.75L614.72,96.65M613.34,94.75L611.96,96.65M613.34,94.75L611.11,94.02" stroke="#231f20" stroke-width="1.25" stroke-linecap="round" fill="none"/>
<path d="M623.56,101.15L623.56,98.80M623.56,101.15L625.79,100.42M623.56,101.15L624.94,103.05M623.56,101.15L622.18,103.05M623.56,101.15L621.32,100.42" stroke="#231f20" stroke-width="1.25" stroke-linecap="round" fill="none"/>
<path d="M630.50,101.15L630.50,98.80M630.50,101.15L632.73,100.42M630.50,101.15L631.88,103.05M630.50,101.15L629.12,103.05M630.50,101.15L628.27,100.42" stroke="#231f20" stroke-width="1.25" stroke-linecap="round" fill="none"/>
<path d="M637.44,101.15L637.44,98.80M637.44,101.15L639.68,100.42M637.44,101.15L638.82,103.05M637.44,101.15L636.06,103.05M637.44,101.15L635.21,100.42" stroke="#231f20" stroke-width="1.25" stroke-linecap="round" fill="none"/>
<path d="M635.16,107.65L635.16,105.30M635.16,107.65L637.39,106.92M635.16,107.65L636.54,109.55M635.16,107.65L633.78,109.55M635.16,107.65L632.92,106.92" stroke="#231f20" stroke-width="1.25" stroke-linecap="round" fill="none"/>
<path d="M642.10,107.65L642.10,105.30M642.10,107.65L644.33,106.92M642.10,107.65L643.48,109.55M642.10,107.65L640.72,109.55M642.10,107.65L639.87,106.92" stroke="#231f20" stroke-width="1.25" stroke-linecap="round" fill="none"/>
<path d="M649.04,107.65L649.04,105.30M649.04,107.65L651.28,106.92M649.04,107.65L650.42,109.55M649.04,107.65L647.66,109.55M649.04,107.65L646.81,106.92" stroke="#231f20" stroke-width="1.25" stroke-linecap="round" fill="none"/>
<path d="M658.86,117.75L658.86,115.40M658.86,117.75L661.09,117.02M658.86,117.75L660.24,119.65M658.86,117.75L657.48,119.65M658.86,117.75L656.62,117.02" stroke="#231f20" stroke-width="1.25" stroke-linecap="round" fill="none"/>
<path d="M665.80,117.75L665.80,115.40M665.80,117.75L668.03,117.02M665.80,117.75L667.18,119.65M665.80,117.75L664.42,119.65M665.80,117.75L663.57,117.02" stroke="#231f20" stroke-width="1.25" stroke-linecap="round" fill="none"/>
<path d="M672.74,117.75L672.74,115.40M672.74,117.75L674.98,117.02M672.74,117.75L674.12,119.65M672.74,117.75L671.36,119.65M672.74,117.75L670.51,117.02" stroke="#231f20" stroke-width="1.25" stroke-linecap="round" fill="none"/>
<text x="0.05" y="292.80" font-size="23" textLength="14.50" lengthAdjust="spacingAndGlyphs" font-weight="bold">E</text>
<text x="52.02" y="295.80" font-size="14.1" textLength="252.11" lengthAdjust="spacingAndGlyphs" stroke="#231f20" stroke-width="0.25">NK cells: comparing hours after PMA and mAbs</text>
<rect x="53.55" y="315.15" width="16.2" height="8.1" fill="white" stroke="#231f20" stroke-width="2.5"/>
<text x="73.78" y="324.10" font-size="14.5" fill="#717173" textLength="63.86" lengthAdjust="spacingAndGlyphs" stroke="#717173" stroke-width="0.25">Untreated</text>
<rect x="52" y="330.4" width="19" height="9.9" fill="#6e6f72"/>
<text x="73.55" y="340.30" font-size="14.5" textLength="47.31" lengthAdjust="spacingAndGlyphs" stroke="#231f20" stroke-width="0.25">Isotype</text>
<rect x="52" y="346.6" width="19" height="9.8" fill="#0b7b3e"/>
<text x="73.71" y="356.40" font-size="14.5" fill="#0b7b3e" textLength="35.52" lengthAdjust="spacingAndGlyphs" stroke="#0b7b3e" stroke-width="0.25">F9H4</text>
<line x1="41.90" y1="327.75" x2="41.90" y2="465.85" stroke="#231f20" stroke-width="1.9"/>
<line x1="36.70" y1="464.90" x2="41.90" y2="464.90" stroke="#231f20" stroke-width="1.9"/>
<text x="28.30" y="469.80" font-size="14.0" textLength="7.32" lengthAdjust="spacingAndGlyphs" stroke="#231f20" stroke-width="0.25">0</text>
<line x1="36.70" y1="419.50" x2="41.90" y2="419.50" stroke="#231f20" stroke-width="1.9"/>
<text x="28.33" y="424.40" font-size="14.0" textLength="7.32" lengthAdjust="spacingAndGlyphs" stroke="#231f20" stroke-width="0.25">5</text>
<line x1="36.70" y1="374.10" x2="41.90" y2="374.10" stroke="#231f20" stroke-width="1.9"/>
<text x="20.98" y="379.00" font-size="14.0" textLength="14.64" lengthAdjust="spacingAndGlyphs" stroke="#231f20" stroke-width="0.25">10</text>
<line x1="36.70" y1="328.70" x2="41.90" y2="328.70" stroke="#231f20" stroke-width="1.9"/>
<text x="21.01" y="333.60" font-size="14.0" textLength="14.64" lengthAdjust="spacingAndGlyphs" stroke="#231f20" stroke-width="0.25">15</text>
<line x1="40.95" y1="464.90" x2="169.05" y2="464.90" stroke="#231f20" stroke-width="1.9"/>
<line x1="61.50" y1="464.90" x2="61.50" y2="472.10" stroke="#231f20" stroke-width="1.9"/>
<text x="57.66" y="484.70" font-size="14.0" textLength="7.32" lengthAdjust="spacingAndGlyphs" stroke="#231f20" stroke-width="0.25">1</text>
<line x1="104.50" y1="464.90" x2="104.50" y2="472.10" stroke="#231f20" stroke-width="1.9"/>
<text x="100.84" y="484.70" font-size="14.0" textLength="7.32" lengthAdjust="spacingAndGlyphs" stroke="#231f20" stroke-width="0.25">2</text>
<line x1="147.90" y1="464.90" x2="147.90" y2="472.10" stroke="#231f20" stroke-width="1.9"/>
<text x="144.28" y="484.70" font-size="14.0" textLength="7.32" lengthAdjust="spacingAndGlyphs" stroke="#231f20" stroke-width="0.25">3</text>
<text x="18.60" y="443.54" font-size="14.8" textLength="108.74" lengthAdjust="spacingAndGlyphs" transform="rotate(-90 18.60 443.54)" stroke="#231f20" stroke-width="0.25"><tspan>CD69 MFI (x10</tspan><tspan font-size="9.47" dy="-4.30">3</tspan><tspan dy="4.30">)</tspan></text>
<rect x="51.50" y="425.86" width="7.90" height="39.04" fill="#9c9ca0"/>
<circle cx="52.85" cy="424.95" r="1.55" fill="#231f20"/>
<circle cx="54.15" cy="426.76" r="1.55" fill="#231f20"/>
<circle cx="55.45" cy="425.40" r="1.55" fill="#231f20"/>
<circle cx="56.75" cy="424.49" r="1.55" fill="#231f20"/>
<circle cx="58.05" cy="426.31" r="1.55" fill="#231f20"/>
<line x1="55.45" y1="425.04" x2="55.45" y2="426.67" stroke="#231f20" stroke-width="1.2"/>
<line x1="53.25" y1="425.04" x2="57.65" y2="425.04" stroke="#231f20" stroke-width="1.2"/>
<rect x="63.00" y="422.22" width="7.70" height="42.68" fill="#0b7b3e"/>
<circle cx="64.25" cy="420.41" r="1.55" fill="#231f20"/>
<circle cx="65.55" cy="424.04" r="1.55" fill="#231f20"/>
<circle cx="66.85" cy="419.05" r="1.55" fill="#231f20"/>
<circle cx="68.15" cy="422.22" r="1.55" fill="#231f20"/>
<circle cx="69.45" cy="424.49" r="1.55" fill="#231f20"/>
<line x1="66.85" y1="420.32" x2="66.85" y2="424.13" stroke="#231f20" stroke-width="1.2"/>
<line x1="64.65" y1="420.32" x2="69.05" y2="420.32" stroke="#231f20" stroke-width="1.2"/>
<rect x="94.90" y="391.90" width="8.10" height="73.00" fill="#9c9ca0"/>
<circle cx="96.35" cy="390.99" r="1.55" fill="#231f20"/>
<circle cx="97.65" cy="392.80" r="1.55" fill="#231f20"/>
<circle cx="98.95" cy="391.44" r="1.55" fill="#231f20"/>
<circle cx="100.25" cy="393.71" r="1.55" fill="#231f20"/>
<circle cx="101.55" cy="391.90" r="1.55" fill="#231f20"/>
<line x1="98.95" y1="390.81" x2="98.95" y2="392.99" stroke="#231f20" stroke-width="1.2"/>
<line x1="96.75" y1="390.81" x2="101.15" y2="390.81" stroke="#231f20" stroke-width="1.2"/>
<rect x="106.70" y="389.54" width="8.00" height="75.36" fill="#0b7b3e"/>
<circle cx="108.10" cy="387.72" r="1.55" fill="#231f20"/>
<circle cx="109.40" cy="391.35" r="1.55" fill="#231f20"/>
<circle cx="110.70" cy="384.09" r="1.55" fill="#231f20"/>
<circle cx="112.00" cy="389.54" r="1.55" fill="#231f20"/>
<circle cx="113.30" cy="392.26" r="1.55" fill="#231f20"/>
<line x1="110.70" y1="386.27" x2="110.70" y2="392.80" stroke="#231f20" stroke-width="1.2"/>
<line x1="108.50" y1="386.27" x2="112.90" y2="386.27" stroke="#231f20" stroke-width="1.2"/>
<rect x="133.20" y="427.30" width="6.30" height="37.60" fill="white" stroke="#231f20" stroke-width="1.8"/>
<circle cx="133.75" cy="425.49" r="1.55" fill="#231f20"/>
<circle cx="135.05" cy="426.85" r="1.55" fill="#231f20"/>
<circle cx="136.35" cy="425.95" r="1.55" fill="#231f20"/>
<circle cx="137.65" cy="426.40" r="1.55" fill="#231f20"/>
<circle cx="138.95" cy="425.67" r="1.55" fill="#231f20"/>
<line x1="136.35" y1="425.86" x2="136.35" y2="426.95" stroke="#231f20" stroke-width="1.2"/>
<line x1="134.15" y1="425.86" x2="138.55" y2="425.86" stroke="#231f20" stroke-width="1.2"/>
<rect x="144.00" y="367.02" width="8.10" height="97.88" fill="#9c9ca0"/>
<circle cx="145.45" cy="362.48" r="1.55" fill="#231f20"/>
<circle cx="146.75" cy="370.65" r="1.55" fill="#231f20"/>
<circle cx="148.05" cy="365.20" r="1.55" fill="#231f20"/>
<circle cx="149.35" cy="375.19" r="1.55" fill="#231f20"/>
<circle cx="150.65" cy="364.29" r="1.55" fill="#231f20"/>
<line x1="148.05" y1="362.11" x2="148.05" y2="371.92" stroke="#231f20" stroke-width="1.2"/>
<line x1="145.85" y1="362.11" x2="150.25" y2="362.11" stroke="#231f20" stroke-width="1.2"/>
<rect x="156.10" y="366.20" width="7.80" height="98.70" fill="#0b7b3e"/>
<circle cx="157.40" cy="364.84" r="1.55" fill="#231f20"/>
<circle cx="158.70" cy="367.11" r="1.55" fill="#231f20"/>
<circle cx="160.00" cy="365.75" r="1.55" fill="#231f20"/>
<circle cx="161.30" cy="365.29" r="1.55" fill="#231f20"/>
<circle cx="162.60" cy="366.65" r="1.55" fill="#231f20"/>
<line x1="160.00" y1="365.38" x2="160.00" y2="367.02" stroke="#231f20" stroke-width="1.2"/>
<line x1="157.80" y1="365.38" x2="162.20" y2="365.38" stroke="#231f20" stroke-width="1.2"/>
<line x1="212.30" y1="326.75" x2="212.30" y2="465.45" stroke="#231f20" stroke-width="1.9"/>
<line x1="207.10" y1="464.50" x2="212.30" y2="464.50" stroke="#231f20" stroke-width="1.9"/>
<text x="198.30" y="469.40" font-size="14.0" textLength="7.32" lengthAdjust="spacingAndGlyphs" stroke="#231f20" stroke-width="0.25">0</text>
<line x1="207.10" y1="430.30" x2="212.30" y2="430.30" stroke="#231f20" stroke-width="1.9"/>
<text x="190.98" y="435.20" font-size="14.0" textLength="14.64" lengthAdjust="spacingAndGlyphs" stroke="#231f20" stroke-width="0.25">20</text>
<line x1="207.10" y1="396.10" x2="212.30" y2="396.10" stroke="#231f20" stroke-width="1.9"/>
<text x="190.98" y="401.00" font-size="14.0" textLength="14.64" lengthAdjust="spacingAndGlyphs" stroke="#231f20" stroke-width="0.25">40</text>
<line x1="207.10" y1="361.90" x2="212.30" y2="361.90" stroke="#231f20" stroke-width="1.9"/>
<text x="190.98" y="366.80" font-size="14.0" textLength="14.64" lengthAdjust="spacingAndGlyphs" stroke="#231f20" stroke-width="0.25">60</text>
<line x1="207.10" y1="327.70" x2="212.30" y2="327.70" stroke="#231f20" stroke-width="1.9"/>
<text x="190.98" y="332.60" font-size="14.0" textLength="14.64" lengthAdjust="spacingAndGlyphs" stroke="#231f20" stroke-width="0.25">80</text>
<line x1="211.35" y1="464.50" x2="338.65" y2="464.50" stroke="#231f20" stroke-width="1.9"/>
<line x1="231.30" y1="464.50" x2="231.30" y2="471.70" stroke="#231f20" stroke-width="1.9"/>
<text x="227.46" y="484.70" font-size="14.0" textLength="7.32" lengthAdjust="spacingAndGlyphs" stroke="#231f20" stroke-width="0.25">1</text>
<line x1="274.50" y1="464.50" x2="274.50" y2="471.70" stroke="#231f20" stroke-width="1.9"/>
<text x="270.84" y="484.70" font-size="14.0" textLength="7.32" lengthAdjust="spacingAndGlyphs" stroke="#231f20" stroke-width="0.25">2</text>
<line x1="317.40" y1="464.50" x2="317.40" y2="471.70" stroke="#231f20" stroke-width="1.9"/>
<text x="313.78" y="484.70" font-size="14.0" textLength="7.32" lengthAdjust="spacingAndGlyphs" stroke="#231f20" stroke-width="0.25">3</text>
<text x="184.80" y="468.84" font-size="14.8" textLength="146.75" lengthAdjust="spacingAndGlyphs" transform="rotate(-90 184.80 468.84)" stroke="#231f20" stroke-width="0.25">CD16a expression (%)</text>
<rect x="222.00" y="348.05" width="7.90" height="116.45" fill="#9c9ca0"/>
<circle cx="223.35" cy="344.63" r="1.55" fill="#231f20"/>
<circle cx="224.65" cy="349.76" r="1.55" fill="#231f20"/>
<circle cx="225.95" cy="345.48" r="1.55" fill="#231f20"/>
<circle cx="227.25" cy="360.02" r="1.55" fill="#231f20"/>
<circle cx="228.55" cy="347.19" r="1.55" fill="#231f20"/>
<line x1="225.95" y1="340.87" x2="225.95" y2="355.23" stroke="#231f20" stroke-width="1.2"/>
<line x1="223.75" y1="340.87" x2="228.15" y2="340.87" stroke="#231f20" stroke-width="1.2"/>
<rect x="233.40" y="346.51" width="7.90" height="117.99" fill="#0b7b3e"/>
<circle cx="234.75" cy="345.65" r="1.55" fill="#231f20"/>
<circle cx="236.05" cy="347.37" r="1.55" fill="#231f20"/>
<circle cx="237.35" cy="346.00" r="1.55" fill="#231f20"/>
<circle cx="238.65" cy="349.07" r="1.55" fill="#231f20"/>
<circle cx="239.95" cy="346.17" r="1.55" fill="#231f20"/>
<line x1="237.35" y1="344.97" x2="237.35" y2="348.05" stroke="#231f20" stroke-width="1.2"/>
<line x1="235.15" y1="344.97" x2="239.55" y2="344.97" stroke="#231f20" stroke-width="1.2"/>
<rect x="265.10" y="424.14" width="7.70" height="40.36" fill="#9c9ca0"/>
<circle cx="266.35" cy="417.30" r="1.55" fill="#231f20"/>
<circle cx="267.39" cy="430.98" r="1.55" fill="#231f20"/>
<circle cx="268.43" cy="420.72" r="1.55" fill="#231f20"/>
<circle cx="269.47" cy="429.27" r="1.55" fill="#231f20"/>
<circle cx="270.51" cy="422.43" r="1.55" fill="#231f20"/>
<circle cx="271.55" cy="427.56" r="1.55" fill="#231f20"/>
<line x1="268.95" y1="420.04" x2="268.95" y2="428.25" stroke="#231f20" stroke-width="1.2"/>
<line x1="266.75" y1="420.04" x2="271.15" y2="420.04" stroke="#231f20" stroke-width="1.2"/>
<rect x="276.50" y="361.56" width="7.70" height="102.94" fill="#0b7b3e"/>
<circle cx="277.75" cy="357.28" r="1.55" fill="#231f20"/>
<circle cx="279.05" cy="363.27" r="1.55" fill="#231f20"/>
<circle cx="280.35" cy="359.85" r="1.55" fill="#231f20"/>
<circle cx="281.65" cy="366.69" r="1.55" fill="#231f20"/>
<circle cx="282.95" cy="360.70" r="1.55" fill="#231f20"/>
<line x1="280.35" y1="358.48" x2="280.35" y2="364.64" stroke="#231f20" stroke-width="1.2"/>
<line x1="278.15" y1="358.48" x2="282.55" y2="358.48" stroke="#231f20" stroke-width="1.2"/>
<rect x="303.40" y="340.06" width="5.40" height="124.44" fill="white" stroke="#231f20" stroke-width="1.8"/>
<circle cx="303.50" cy="336.59" r="1.55" fill="#231f20"/>
<circle cx="304.80" cy="340.01" r="1.55" fill="#231f20"/>
<circle cx="306.10" cy="337.45" r="1.55" fill="#231f20"/>
<circle cx="307.40" cy="343.43" r="1.55" fill="#231f20"/>
<circle cx="308.70" cy="338.30" r="1.55" fill="#231f20"/>
<line x1="306.10" y1="336.59" x2="306.10" y2="341.72" stroke="#231f20" stroke-width="1.2"/>
<line x1="303.90" y1="336.59" x2="308.30" y2="336.59" stroke="#231f20" stroke-width="1.2"/>
<rect x="314.30" y="451.16" width="7.20" height="13.34" fill="#9c9ca0"/>
<circle cx="315.30" cy="450.14" r="1.55" fill="#231f20"/>
<circle cx="316.60" cy="452.02" r="1.55" fill="#231f20"/>
<circle cx="317.90" cy="450.65" r="1.55" fill="#231f20"/>
<circle cx="319.20" cy="451.50" r="1.55" fill="#231f20"/>
<circle cx="320.50" cy="450.48" r="1.55" fill="#231f20"/>
<line x1="317.90" y1="450.55" x2="317.90" y2="451.78" stroke="#231f20" stroke-width="1.2"/>
<line x1="315.70" y1="450.55" x2="320.10" y2="450.55" stroke="#231f20" stroke-width="1.2"/>
<rect x="325.70" y="371.82" width="7.50" height="92.68" fill="#0b7b3e"/>
<circle cx="326.85" cy="368.40" r="1.55" fill="#231f20"/>
<circle cx="328.15" cy="373.53" r="1.55" fill="#231f20"/>
<circle cx="329.45" cy="370.11" r="1.55" fill="#231f20"/>
<circle cx="330.75" cy="376.95" r="1.55" fill="#231f20"/>
<circle cx="332.05" cy="370.96" r="1.55" fill="#231f20"/>
<line x1="329.45" y1="368.74" x2="329.45" y2="374.90" stroke="#231f20" stroke-width="1.2"/>
<line x1="327.25" y1="368.74" x2="331.65" y2="368.74" stroke="#231f20" stroke-width="1.2"/>
<line x1="269.70" y1="353.20" x2="280.70" y2="353.20" stroke="#231f20" stroke-width="1.3"/>
<path d="M269.66,347.65L269.66,345.30M269.66,347.65L271.89,346.92M269.66,347.65L271.04,349.55M269.66,347.65L268.28,349.55M269.66,347.65L267.42,346.92" stroke="#231f20" stroke-width="1.25" stroke-linecap="round" fill="none"/>
<path d="M276.55,347.65L276.55,345.30M276.55,347.65L278.78,346.92M276.55,347.65L277.93,349.55M276.55,347.65L275.17,349.55M276.55,347.65L274.32,346.92" stroke="#231f20" stroke-width="1.25" stroke-linecap="round" fill="none"/>
<path d="M283.44,347.65L283.44,345.30M283.44,347.65L285.68,346.92M283.44,347.65L284.82,349.55M283.44,347.65L282.06,349.55M283.44,347.65L281.21,346.92" stroke="#231f20" stroke-width="1.25" stroke-linecap="round" fill="none"/>
<line x1="316.00" y1="362.50" x2="327.40" y2="362.50" stroke="#231f20" stroke-width="1.3"/>
<path d="M315.26,356.75L315.26,354.40M315.26,356.75L317.49,356.02M315.26,356.75L316.64,358.65M315.26,356.75L313.88,358.65M315.26,356.75L313.02,356.02" stroke="#231f20" stroke-width="1.25" stroke-linecap="round" fill="none"/>
<path d="M322.15,356.75L322.15,354.40M322.15,356.75L324.38,356.02M322.15,356.75L323.53,358.65M322.15,356.75L320.77,358.65M322.15,356.75L319.92,356.02" stroke="#231f20" stroke-width="1.25" stroke-linecap="round" fill="none"/>
<path d="M329.04,356.75L329.04,354.40M329.04,356.75L331.28,356.02M329.04,356.75L330.42,358.65M329.04,356.75L327.66,358.65M329.04,356.75L326.81,356.02" stroke="#231f20" stroke-width="1.25" stroke-linecap="round" fill="none"/>
<text x="64.91" y="499.80" font-size="14.4" textLength="218.02" lengthAdjust="spacingAndGlyphs" stroke="#231f20" stroke-width="0.25">Hours after administration of PMA</text>
<text x="345.46" y="292.80" font-size="23" textLength="13.12" lengthAdjust="spacingAndGlyphs" font-weight="bold">F</text>
<text x="366.12" y="288.60" font-size="14.3" textLength="145.97" lengthAdjust="spacingAndGlyphs" stroke="#231f20" stroke-width="0.25">PMA-treated macrophages:</text>
<text x="388.72" y="305.20" font-size="14.3" textLength="101.21" lengthAdjust="spacingAndGlyphs" stroke="#231f20" stroke-width="0.25">titrating mAb doses</text>
<line x1="394.20" y1="315.85" x2="394.20" y2="465.75" stroke="#231f20" stroke-width="1.9"/>
<line x1="388.40" y1="464.80" x2="394.20" y2="464.80" stroke="#231f20" stroke-width="1.9"/>
<text x="379.30" y="469.70" font-size="14.0" textLength="7.32" lengthAdjust="spacingAndGlyphs" stroke="#231f20" stroke-width="0.25">0</text>
<line x1="388.40" y1="427.80" x2="394.20" y2="427.80" stroke="#231f20" stroke-width="1.9"/>
<text x="371.98" y="432.70" font-size="14.0" textLength="14.64" lengthAdjust="spacingAndGlyphs" stroke="#231f20" stroke-width="0.25">10</text>
<line x1="388.40" y1="390.80" x2="394.20" y2="390.80" stroke="#231f20" stroke-width="1.9"/>
<text x="371.98" y="395.70" font-size="14.0" textLength="14.64" lengthAdjust="spacingAndGlyphs" stroke="#231f20" stroke-width="0.25">20</text>
<line x1="388.40" y1="353.80" x2="394.20" y2="353.80" stroke="#231f20" stroke-width="1.9"/>
<text x="371.98" y="358.70" font-size="14.0" textLength="14.64" lengthAdjust="spacingAndGlyphs" stroke="#231f20" stroke-width="0.25">30</text>
<line x1="388.40" y1="316.80" x2="394.20" y2="316.80" stroke="#231f20" stroke-width="1.9"/>
<text x="371.98" y="321.70" font-size="14.0" textLength="14.64" lengthAdjust="spacingAndGlyphs" stroke="#231f20" stroke-width="0.25">40</text>
<line x1="394.20" y1="464.80" x2="394.20" y2="472.30" stroke="#231f20" stroke-width="1.9"/>
<line x1="393.25" y1="464.80" x2="511.15" y2="464.80" stroke="#231f20" stroke-width="1.9"/>
<line x1="394.20" y1="464.80" x2="394.20" y2="472.30" stroke="#231f20" stroke-width="1.9"/>
<text x="388.69" y="486.30" font-size="14.0" textLength="11.70" lengthAdjust="spacingAndGlyphs" stroke="#231f20" stroke-width="0.25">-2</text>
<line x1="417.40" y1="464.80" x2="417.40" y2="472.30" stroke="#231f20" stroke-width="1.9"/>
<text x="411.88" y="486.30" font-size="14.0" textLength="11.70" lengthAdjust="spacingAndGlyphs" stroke="#231f20" stroke-width="0.25">-1</text>
<line x1="440.60" y1="464.80" x2="440.60" y2="472.30" stroke="#231f20" stroke-width="1.9"/>
<text x="436.94" y="486.30" font-size="14.0" textLength="7.32" lengthAdjust="spacingAndGlyphs" stroke="#231f20" stroke-width="0.25">0</text>
<line x1="463.80" y1="464.80" x2="463.80" y2="472.30" stroke="#231f20" stroke-width="1.9"/>
<text x="459.96" y="486.30" font-size="14.0" textLength="7.32" lengthAdjust="spacingAndGlyphs" stroke="#231f20" stroke-width="0.25">1</text>
<line x1="487.00" y1="464.80" x2="487.00" y2="472.30" stroke="#231f20" stroke-width="1.9"/>
<text x="483.34" y="486.30" font-size="14.0" textLength="7.32" lengthAdjust="spacingAndGlyphs" stroke="#231f20" stroke-width="0.25">2</text>
<line x1="510.20" y1="464.80" x2="510.20" y2="472.30" stroke="#231f20" stroke-width="1.9"/>
<text x="506.58" y="486.30" font-size="14.0" textLength="7.32" lengthAdjust="spacingAndGlyphs" stroke="#231f20" stroke-width="0.25">3</text>
<text x="363.50" y="470.13" font-size="15.0" textLength="145.03" lengthAdjust="spacingAndGlyphs" transform="rotate(-90 363.50 470.13)" stroke="#231f20" stroke-width="0.25">CD16a expression (%)</text>
<line x1="404.20" y1="320.10" x2="422.80" y2="320.10" stroke="#231f20" stroke-width="1.7"/>
<ellipse cx="413.40" cy="320.10" rx="3.2" ry="3.4" fill="#231f20"/>
<text x="429.47" y="323.80" font-size="14.3" textLength="42.92" lengthAdjust="spacingAndGlyphs" stroke="#231f20" stroke-width="0.25">Isotype</text>
<line x1="404.20" y1="334.30" x2="422.80" y2="334.30" stroke="#0b7b3e" stroke-width="1.7"/>
<rect x="409.90" y="330.80" width="7.0" height="7.0" fill="#0b7b3e"/>
<text x="429.64" y="339.60" font-size="14.3" fill="#0b7b3e" textLength="31.64" lengthAdjust="spacingAndGlyphs" stroke="#0b7b3e" stroke-width="0.25">F9H4</text>
<polyline points="417.40,402.09 418.56,396.83 419.72,392.30 420.88,388.41 422.04,385.06 423.20,382.17 424.36,379.69 425.52,377.55 426.68,375.71 427.84,374.13 429.00,372.77 430.16,371.59 431.32,370.58 432.48,369.71 433.64,368.97 434.80,368.32 435.96,367.77 437.12,367.29 438.28,366.88 439.44,366.53 440.60,366.22 441.76,365.96 442.92,365.74 444.08,365.54 445.24,365.38 446.40,365.23 447.56,365.11 448.72,365.00 449.88,364.91 451.04,364.83 452.20,364.76 453.36,364.71 454.52,364.66 455.68,364.61 456.84,364.58 458.00,364.54 459.16,364.52 460.32,364.49 461.48,364.47 462.64,364.45 463.80,364.44 464.96,364.43 466.12,364.41 467.28,364.40 468.44,364.40 469.60,364.39 470.76,364.38 471.92,364.38 473.08,364.37 474.24,364.37 475.40,364.37 476.56,364.36 477.72,364.36 478.88,364.36 480.04,364.36 481.20,364.35 482.36,364.35 483.52,364.35 484.68,364.35 485.84,364.35 487.00,364.35" fill="none" stroke="#0b7b3e" stroke-width="1.8" stroke-linejoin="round"/>
<line x1="417.40" y1="409.30" x2="487.00" y2="409.30" stroke="#231f20" stroke-width="1.8"/>
<line x1="417.40" y1="392.65" x2="417.40" y2="405.97" stroke="#0b7b3e" stroke-width="1.6"/>
<line x1="414.30" y1="392.65" x2="420.50" y2="392.65" stroke="#0b7b3e" stroke-width="1.6"/>
<line x1="414.30" y1="405.97" x2="420.50" y2="405.97" stroke="#0b7b3e" stroke-width="1.6"/>
<rect x="414.30" y="395.91" width="6.2" height="6.8" fill="#0b7b3e"/>
<line x1="429.00" y1="374.52" x2="429.00" y2="378.22" stroke="#0b7b3e" stroke-width="1.6"/>
<line x1="425.90" y1="374.52" x2="432.10" y2="374.52" stroke="#0b7b3e" stroke-width="1.6"/>
<line x1="425.90" y1="378.22" x2="432.10" y2="378.22" stroke="#0b7b3e" stroke-width="1.6"/>
<rect x="425.90" y="372.97" width="6.2" height="6.8" fill="#0b7b3e"/>
<line x1="440.60" y1="358.61" x2="440.60" y2="360.09" stroke="#0b7b3e" stroke-width="1.6"/>
<line x1="437.50" y1="358.61" x2="443.70" y2="358.61" stroke="#0b7b3e" stroke-width="1.6"/>
<line x1="437.50" y1="360.09" x2="443.70" y2="360.09" stroke="#0b7b3e" stroke-width="1.6"/>
<rect x="437.50" y="355.95" width="6.2" height="6.8" fill="#0b7b3e"/>
<line x1="452.20" y1="358.98" x2="452.20" y2="369.34" stroke="#0b7b3e" stroke-width="1.6"/>
<line x1="449.10" y1="358.98" x2="455.30" y2="358.98" stroke="#0b7b3e" stroke-width="1.6"/>
<line x1="449.10" y1="369.34" x2="455.30" y2="369.34" stroke="#0b7b3e" stroke-width="1.6"/>
<rect x="449.10" y="360.76" width="6.2" height="6.8" fill="#0b7b3e"/>
<line x1="463.80" y1="359.35" x2="463.80" y2="371.19" stroke="#0b7b3e" stroke-width="1.6"/>
<line x1="460.70" y1="359.35" x2="466.90" y2="359.35" stroke="#0b7b3e" stroke-width="1.6"/>
<line x1="460.70" y1="371.19" x2="466.90" y2="371.19" stroke="#0b7b3e" stroke-width="1.6"/>
<rect x="460.70" y="361.87" width="6.2" height="6.8" fill="#0b7b3e"/>
<line x1="475.40" y1="366.01" x2="475.40" y2="368.23" stroke="#0b7b3e" stroke-width="1.6"/>
<line x1="472.30" y1="366.01" x2="478.50" y2="366.01" stroke="#0b7b3e" stroke-width="1.6"/>
<line x1="472.30" y1="368.23" x2="478.50" y2="368.23" stroke="#0b7b3e" stroke-width="1.6"/>
<rect x="472.30" y="363.72" width="6.2" height="6.8" fill="#0b7b3e"/>
<line x1="487.00" y1="374.89" x2="487.00" y2="377.11" stroke="#0b7b3e" stroke-width="1.6"/>
<line x1="483.90" y1="374.89" x2="490.10" y2="374.89" stroke="#0b7b3e" stroke-width="1.6"/>
<line x1="483.90" y1="377.11" x2="490.10" y2="377.11" stroke="#0b7b3e" stroke-width="1.6"/>
<rect x="483.90" y="372.60" width="6.2" height="6.8" fill="#0b7b3e"/>
<line x1="417.40" y1="415.59" x2="417.40" y2="421.51" stroke="#231f20" stroke-width="1.6"/>
<line x1="414.30" y1="415.59" x2="420.50" y2="415.59" stroke="#231f20" stroke-width="1.6"/>
<line x1="414.30" y1="421.51" x2="420.50" y2="421.51" stroke="#231f20" stroke-width="1.6"/>
<ellipse cx="417.40" cy="418.55" rx="3.0" ry="3.6" fill="#231f20"/>
<line x1="429.00" y1="377.85" x2="429.00" y2="402.27" stroke="#231f20" stroke-width="1.6"/>
<line x1="425.90" y1="377.85" x2="432.10" y2="377.85" stroke="#231f20" stroke-width="1.6"/>
<line x1="425.90" y1="402.27" x2="432.10" y2="402.27" stroke="#231f20" stroke-width="1.6"/>
<ellipse cx="429.00" cy="390.06" rx="3.0" ry="3.6" fill="#231f20"/>
<line x1="440.60" y1="408.19" x2="440.60" y2="418.55" stroke="#231f20" stroke-width="1.6"/>
<line x1="437.50" y1="408.19" x2="443.70" y2="408.19" stroke="#231f20" stroke-width="1.6"/>
<line x1="437.50" y1="418.55" x2="443.70" y2="418.55" stroke="#231f20" stroke-width="1.6"/>
<ellipse cx="440.60" cy="413.37" rx="3.0" ry="3.6" fill="#231f20"/>
<line x1="452.20" y1="407.82" x2="452.20" y2="410.04" stroke="#231f20" stroke-width="1.6"/>
<line x1="449.10" y1="407.82" x2="455.30" y2="407.82" stroke="#231f20" stroke-width="1.6"/>
<line x1="449.10" y1="410.04" x2="455.30" y2="410.04" stroke="#231f20" stroke-width="1.6"/>
<ellipse cx="452.20" cy="408.93" rx="3.0" ry="3.6" fill="#231f20"/>
<line x1="463.80" y1="391.91" x2="463.80" y2="402.27" stroke="#231f20" stroke-width="1.6"/>
<line x1="460.70" y1="391.91" x2="466.90" y2="391.91" stroke="#231f20" stroke-width="1.6"/>
<line x1="460.70" y1="402.27" x2="466.90" y2="402.27" stroke="#231f20" stroke-width="1.6"/>
<ellipse cx="463.80" cy="397.09" rx="3.0" ry="3.6" fill="#231f20"/>
<line x1="475.40" y1="400.05" x2="475.40" y2="402.27" stroke="#231f20" stroke-width="1.6"/>
<line x1="472.30" y1="400.05" x2="478.50" y2="400.05" stroke="#231f20" stroke-width="1.6"/>
<line x1="472.30" y1="402.27" x2="478.50" y2="402.27" stroke="#231f20" stroke-width="1.6"/>
<ellipse cx="475.40" cy="401.16" rx="3.0" ry="3.6" fill="#231f20"/>
<line x1="487.00" y1="417.07" x2="487.00" y2="419.29" stroke="#231f20" stroke-width="1.6"/>
<line x1="483.90" y1="417.07" x2="490.10" y2="417.07" stroke="#231f20" stroke-width="1.6"/>
<line x1="483.90" y1="419.29" x2="490.10" y2="419.29" stroke="#231f20" stroke-width="1.6"/>
<ellipse cx="487.00" cy="418.18" rx="3.0" ry="3.6" fill="#231f20"/>
<path d="M429.46,351.45L429.46,349.10M429.46,351.45L431.69,350.72M429.46,351.45L430.84,353.35M429.46,351.45L428.08,353.35M429.46,351.45L427.22,350.72" stroke="#231f20" stroke-width="1.25" stroke-linecap="round" fill="none"/>
<path d="M436.40,351.45L436.40,349.10M436.40,351.45L438.63,350.72M436.40,351.45L437.78,353.35M436.40,351.45L435.02,353.35M436.40,351.45L434.17,350.72" stroke="#231f20" stroke-width="1.25" stroke-linecap="round" fill="none"/>
<path d="M443.34,351.45L443.34,349.10M443.34,351.45L445.58,350.72M443.34,351.45L444.72,353.35M443.34,351.45L441.96,353.35M443.34,351.45L441.11,350.72" stroke="#231f20" stroke-width="1.25" stroke-linecap="round" fill="none"/>
<path d="M446.36,343.75L446.36,341.40M446.36,343.75L448.59,343.02M446.36,343.75L447.74,345.65M446.36,343.75L444.98,345.65M446.36,343.75L444.12,343.02" stroke="#231f20" stroke-width="1.25" stroke-linecap="round" fill="none"/>
<path d="M453.30,343.75L453.30,341.40M453.30,343.75L455.53,343.02M453.30,343.75L454.68,345.65M453.30,343.75L451.92,345.65M453.30,343.75L451.07,343.02" stroke="#231f20" stroke-width="1.25" stroke-linecap="round" fill="none"/>
<path d="M460.24,343.75L460.24,341.40M460.24,343.75L462.48,343.02M460.24,343.75L461.62,345.65M460.24,343.75L458.86,345.65M460.24,343.75L458.01,343.02" stroke="#231f20" stroke-width="1.25" stroke-linecap="round" fill="none"/>
<path d="M460.96,351.45L460.96,349.10M460.96,351.45L463.19,350.72M460.96,351.45L462.34,353.35M460.96,351.45L459.58,353.35M460.96,351.45L458.72,350.72" stroke="#231f20" stroke-width="1.25" stroke-linecap="round" fill="none"/>
<path d="M467.90,351.45L467.90,349.10M467.90,351.45L470.13,350.72M467.90,351.45L469.28,353.35M467.90,351.45L466.52,353.35M467.90,351.45L465.67,350.72" stroke="#231f20" stroke-width="1.25" stroke-linecap="round" fill="none"/>
<path d="M474.84,351.45L474.84,349.10M474.84,351.45L477.08,350.72M474.84,351.45L476.22,353.35M474.84,351.45L473.46,353.35M474.84,351.45L472.61,350.72" stroke="#231f20" stroke-width="1.25" stroke-linecap="round" fill="none"/>
<path d="M474.06,358.45L474.06,356.10M474.06,358.45L476.29,357.72M474.06,358.45L475.44,360.35M474.06,358.45L472.68,360.35M474.06,358.45L471.82,357.72" stroke="#231f20" stroke-width="1.25" stroke-linecap="round" fill="none"/>
<path d="M481.00,358.45L481.00,356.10M481.00,358.45L483.23,357.72M481.00,358.45L482.38,360.35M481.00,358.45L479.62,360.35M481.00,358.45L478.77,357.72" stroke="#231f20" stroke-width="1.25" stroke-linecap="round" fill="none"/>
<path d="M487.94,358.45L487.94,356.10M487.94,358.45L490.18,357.72M487.94,358.45L489.32,360.35M487.94,358.45L486.56,360.35M487.94,358.45L485.71,357.72" stroke="#231f20" stroke-width="1.25" stroke-linecap="round" fill="none"/>
<path d="M491.96,368.85L491.96,366.50M491.96,368.85L494.19,368.12M491.96,368.85L493.34,370.75M491.96,368.85L490.58,370.75M491.96,368.85L489.72,368.12" stroke="#231f20" stroke-width="1.25" stroke-linecap="round" fill="none"/>
<path d="M498.90,368.85L498.90,366.50M498.90,368.85L501.13,368.12M498.90,368.85L500.28,370.75M498.90,368.85L497.52,370.75M498.90,368.85L496.67,368.12" stroke="#231f20" stroke-width="1.25" stroke-linecap="round" fill="none"/>
<path d="M505.84,368.85L505.84,366.50M505.84,368.85L508.08,368.12M505.84,368.85L507.22,370.75M505.84,368.85L504.46,370.75M505.84,368.85L503.61,368.12" stroke="#231f20" stroke-width="1.25" stroke-linecap="round" fill="none"/>
<text x="514.05" y="292.80" font-size="23" textLength="18.10" lengthAdjust="spacingAndGlyphs" font-weight="bold">G</text>
<text x="549.21" y="292.00" font-size="14.3" textLength="132.88" lengthAdjust="spacingAndGlyphs" stroke="#231f20" stroke-width="0.25">PMA-treated neutrophils:</text>
<text x="565.22" y="308.30" font-size="14.3" textLength="101.81" lengthAdjust="spacingAndGlyphs" stroke="#231f20" stroke-width="0.25">titrating mAb doses</text>
<line x1="579.00" y1="326.95" x2="579.00" y2="465.95" stroke="#231f20" stroke-width="1.9"/>
<line x1="573.20" y1="465.00" x2="579.00" y2="465.00" stroke="#231f20" stroke-width="1.9"/>
<text x="564.40" y="469.90" font-size="14.0" textLength="7.32" lengthAdjust="spacingAndGlyphs" stroke="#231f20" stroke-width="0.25">0</text>
<line x1="573.20" y1="437.58" x2="579.00" y2="437.58" stroke="#231f20" stroke-width="1.9"/>
<text x="542.44" y="442.48" font-size="14.0" textLength="29.28" lengthAdjust="spacingAndGlyphs" stroke="#231f20" stroke-width="0.25">2000</text>
<line x1="573.20" y1="410.16" x2="579.00" y2="410.16" stroke="#231f20" stroke-width="1.9"/>
<text x="542.44" y="415.06" font-size="14.0" textLength="29.28" lengthAdjust="spacingAndGlyphs" stroke="#231f20" stroke-width="0.25">4000</text>
<line x1="573.20" y1="382.74" x2="579.00" y2="382.74" stroke="#231f20" stroke-width="1.9"/>
<text x="542.44" y="387.64" font-size="14.0" textLength="29.28" lengthAdjust="spacingAndGlyphs" stroke="#231f20" stroke-width="0.25">6000</text>
<line x1="573.20" y1="355.32" x2="579.00" y2="355.32" stroke="#231f20" stroke-width="1.9"/>
<text x="542.44" y="360.22" font-size="14.0" textLength="29.28" lengthAdjust="spacingAndGlyphs" stroke="#231f20" stroke-width="0.25">8000</text>
<line x1="573.20" y1="327.90" x2="579.00" y2="327.90" stroke="#231f20" stroke-width="1.9"/>
<text x="535.12" y="332.80" font-size="14.0" textLength="36.59" lengthAdjust="spacingAndGlyphs" stroke="#231f20" stroke-width="0.25">10000</text>
<line x1="578.05" y1="465.00" x2="682.35" y2="465.00" stroke="#231f20" stroke-width="1.9"/>
<line x1="578.60" y1="465.00" x2="578.60" y2="472.30" stroke="#231f20" stroke-width="1.9"/>
<text x="573.05" y="486.40" font-size="14.0" textLength="11.70" lengthAdjust="spacingAndGlyphs" stroke="#231f20" stroke-width="0.25">-3</text>
<line x1="599.20" y1="465.00" x2="599.20" y2="472.30" stroke="#231f20" stroke-width="1.9"/>
<text x="593.69" y="486.40" font-size="14.0" textLength="11.70" lengthAdjust="spacingAndGlyphs" stroke="#231f20" stroke-width="0.25">-2</text>
<line x1="619.80" y1="465.00" x2="619.80" y2="472.30" stroke="#231f20" stroke-width="1.9"/>
<text x="614.28" y="486.40" font-size="14.0" textLength="11.70" lengthAdjust="spacingAndGlyphs" stroke="#231f20" stroke-width="0.25">-1</text>
<line x1="640.40" y1="465.00" x2="640.40" y2="472.30" stroke="#231f20" stroke-width="1.9"/>
<text x="636.74" y="486.40" font-size="14.0" textLength="7.32" lengthAdjust="spacingAndGlyphs" stroke="#231f20" stroke-width="0.25">0</text>
<line x1="661.00" y1="465.00" x2="661.00" y2="472.30" stroke="#231f20" stroke-width="1.9"/>
<text x="657.16" y="486.40" font-size="14.0" textLength="7.32" lengthAdjust="spacingAndGlyphs" stroke="#231f20" stroke-width="0.25">1</text>
<line x1="681.60" y1="465.00" x2="681.60" y2="472.30" stroke="#231f20" stroke-width="1.9"/>
<text x="677.94" y="486.40" font-size="14.0" textLength="7.32" lengthAdjust="spacingAndGlyphs" stroke="#231f20" stroke-width="0.25">2</text>
<text x="531.50" y="475.64" font-size="15.0" textLength="159.55" lengthAdjust="spacingAndGlyphs" transform="rotate(-90 531.50 475.64)" stroke="#231f20" stroke-width="0.25">CD16b expression (MFI)</text>
<polyline points="588.90,393.56 599.20,390.57 609.50,386.28 619.80,373.50 630.10,362.31 640.40,362.33 650.70,356.94 661.00,354.35" fill="none" stroke="#0b7b3e" stroke-width="1.9" stroke-linejoin="round"/>
<rect x="585.45" y="389.56" width="6.9" height="8.0" fill="#0b7b3e"/>
<rect x="595.75" y="386.57" width="6.9" height="8.0" fill="#0b7b3e"/>
<rect x="606.05" y="382.28" width="6.9" height="8.0" fill="#0b7b3e"/>
<rect x="616.35" y="369.50" width="6.9" height="8.0" fill="#0b7b3e"/>
<rect x="626.65" y="358.31" width="6.9" height="8.0" fill="#0b7b3e"/>
<rect x="636.95" y="358.33" width="6.9" height="8.0" fill="#0b7b3e"/>
<rect x="647.25" y="352.94" width="6.9" height="8.0" fill="#0b7b3e"/>
<rect x="657.55" y="350.35" width="6.9" height="8.0" fill="#0b7b3e"/>
<polyline points="588.90,402.54 599.20,405.53 609.50,402.24 619.80,404.33 630.10,405.64 640.40,405.43 650.70,403.73 661.00,402.54" fill="none" stroke="#231f20" stroke-width="1.9" stroke-linejoin="round"/>
<ellipse cx="588.90" cy="402.54" rx="3.1" ry="4.2" fill="#231f20"/>
<ellipse cx="599.20" cy="405.53" rx="3.1" ry="4.2" fill="#231f20"/>
<ellipse cx="609.50" cy="402.24" rx="3.1" ry="4.2" fill="#231f20"/>
<ellipse cx="619.80" cy="404.33" rx="3.1" ry="4.2" fill="#231f20"/>
<ellipse cx="630.10" cy="405.64" rx="3.1" ry="4.2" fill="#231f20"/>
<ellipse cx="640.40" cy="405.43" rx="3.1" ry="4.2" fill="#231f20"/>
<ellipse cx="650.70" cy="403.73" rx="3.1" ry="4.2" fill="#231f20"/>
<ellipse cx="661.00" cy="402.54" rx="3.1" ry="4.2" fill="#231f20"/>
<path d="M595.06,376.15L595.06,373.80M595.06,376.15L597.29,375.42M595.06,376.15L596.44,378.05M595.06,376.15L593.68,378.05M595.06,376.15L592.82,375.42" stroke="#231f20" stroke-width="1.25" stroke-linecap="round" fill="none"/>
<path d="M602.00,376.15L602.00,373.80M602.00,376.15L604.23,375.42M602.00,376.15L603.38,378.05M602.00,376.15L600.62,378.05M602.00,376.15L599.77,375.42" stroke="#231f20" stroke-width="1.25" stroke-linecap="round" fill="none"/>
<path d="M608.94,376.15L608.94,373.80M608.94,376.15L611.18,375.42M608.94,376.15L610.32,378.05M608.94,376.15L607.56,378.05M608.94,376.15L606.71,375.42" stroke="#231f20" stroke-width="1.25" stroke-linecap="round" fill="none"/>
<path d="M601.96,365.15L601.96,362.80M601.96,365.15L604.19,364.42M601.96,365.15L603.34,367.05M601.96,365.15L600.58,367.05M601.96,365.15L599.72,364.42" stroke="#231f20" stroke-width="1.25" stroke-linecap="round" fill="none"/>
<path d="M608.90,365.15L608.90,362.80M608.90,365.15L611.13,364.42M608.90,365.15L610.28,367.05M608.90,365.15L607.52,367.05M608.90,365.15L606.67,364.42" stroke="#231f20" stroke-width="1.25" stroke-linecap="round" fill="none"/>
<path d="M615.84,365.15L615.84,362.80M615.84,365.15L618.08,364.42M615.84,365.15L617.22,367.05M615.84,365.15L614.46,367.05M615.84,365.15L613.61,364.42" stroke="#231f20" stroke-width="1.25" stroke-linecap="round" fill="none"/>
<path d="M608.06,356.55L608.06,354.20M608.06,356.55L610.29,355.82M608.06,356.55L609.44,358.45M608.06,356.55L606.68,358.45M608.06,356.55L605.82,355.82" stroke="#231f20" stroke-width="1.25" stroke-linecap="round" fill="none"/>
<path d="M615.00,356.55L615.00,354.20M615.00,356.55L617.23,355.82M615.00,356.55L616.38,358.45M615.00,356.55L613.62,358.45M615.00,356.55L612.77,355.82" stroke="#231f20" stroke-width="1.25" stroke-linecap="round" fill="none"/>
<path d="M621.94,356.55L621.94,354.20M621.94,356.55L624.18,355.82M621.94,356.55L623.32,358.45M621.94,356.55L620.56,358.45M621.94,356.55L619.71,355.82" stroke="#231f20" stroke-width="1.25" stroke-linecap="round" fill="none"/>
<path d="M626.86,352.25L626.86,349.90M626.86,352.25L629.09,351.52M626.86,352.25L628.24,354.15M626.86,352.25L625.48,354.15M626.86,352.25L624.62,351.52" stroke="#231f20" stroke-width="1.25" stroke-linecap="round" fill="none"/>
<path d="M633.80,352.25L633.80,349.90M633.80,352.25L636.03,351.52M633.80,352.25L635.18,354.15M633.80,352.25L632.42,354.15M633.80,352.25L631.57,351.52" stroke="#231f20" stroke-width="1.25" stroke-linecap="round" fill="none"/>
<path d="M640.74,352.25L640.74,349.90M640.74,352.25L642.98,351.52M640.74,352.25L642.12,354.15M640.74,352.25L639.36,354.15M640.74,352.25L638.51,351.52" stroke="#231f20" stroke-width="1.25" stroke-linecap="round" fill="none"/>
<path d="M643.36,343.05L643.36,340.70M643.36,343.05L645.59,342.32M643.36,343.05L644.74,344.95M643.36,343.05L641.98,344.95M643.36,343.05L641.12,342.32" stroke="#231f20" stroke-width="1.25" stroke-linecap="round" fill="none"/>
<path d="M650.30,343.05L650.30,340.70M650.30,343.05L652.53,342.32M650.30,343.05L651.68,344.95M650.30,343.05L648.92,344.95M650.30,343.05L648.07,342.32" stroke="#231f20" stroke-width="1.25" stroke-linecap="round" fill="none"/>
<path d="M657.24,343.05L657.24,340.70M657.24,343.05L659.48,342.32M657.24,343.05L658.62,344.95M657.24,343.05L655.86,344.95M657.24,343.05L655.01,342.32" stroke="#231f20" stroke-width="1.25" stroke-linecap="round" fill="none"/>
<path d="M668.36,352.25L668.36,349.90M668.36,352.25L670.59,351.52M668.36,352.25L669.74,354.15M668.36,352.25L666.98,354.15M668.36,352.25L666.12,351.52" stroke="#231f20" stroke-width="1.25" stroke-linecap="round" fill="none"/>
<path d="M675.30,352.25L675.30,349.90M675.30,352.25L677.53,351.52M675.30,352.25L676.68,354.15M675.30,352.25L673.92,354.15M675.30,352.25L673.07,351.52" stroke="#231f20" stroke-width="1.25" stroke-linecap="round" fill="none"/>
<path d="M682.24,352.25L682.24,349.90M682.24,352.25L684.48,351.52M682.24,352.25L683.62,354.15M682.24,352.25L680.86,354.15M682.24,352.25L680.01,351.52" stroke="#231f20" stroke-width="1.25" stroke-linecap="round" fill="none"/>
<line x1="587.90" y1="432.30" x2="607.00" y2="432.30" stroke="#0b7b3e" stroke-width="1.8"/>
<rect x="593.30" y="428.10" width="8.4" height="8.4" fill="#0b7b3e"/>
<text x="611.61" y="437.80" font-size="14.8" fill="#0b7b3e" textLength="35.52" lengthAdjust="spacingAndGlyphs" stroke="#0b7b3e" stroke-width="0.25">F9H4</text>
<line x1="587.90" y1="452.10" x2="607.00" y2="452.10" stroke="#231f20" stroke-width="1.8"/>
<ellipse cx="597.50" cy="452.10" rx="3.9" ry="4.3" fill="#231f20"/>
<text x="611.43" y="457.10" font-size="14.8" textLength="47.83" lengthAdjust="spacingAndGlyphs" stroke="#231f20" stroke-width="0.25">Isotype</text>
<text x="434.51" y="500.80" font-size="15.0" textLength="213.99" lengthAdjust="spacingAndGlyphs" stroke="#231f20" stroke-width="0.25"><tspan>Log</tspan><tspan font-size="9.30" dy="4.70">10</tspan><tspan dy="-4.70"> mAb concentration (µg/mL)</tspan></text>
<text x="0.08" y="550.10" font-size="23" textLength="15.36" lengthAdjust="spacingAndGlyphs" font-weight="bold">H</text>
<text x="112.24" y="552.10" font-size="14.3" textLength="82.32" lengthAdjust="spacingAndGlyphs" stroke="#231f20" stroke-width="0.25">MOLM13 cells</text>
<line x1="63.00" y1="573.10" x2="63.00" y2="709.85" stroke="#231f20" stroke-width="1.9"/>
<line x1="57.80" y1="708.90" x2="63.00" y2="708.90" stroke="#231f20" stroke-width="1.9"/>
<text x="48.70" y="713.80" font-size="14.0" textLength="7.32" lengthAdjust="spacingAndGlyphs" stroke="#231f20" stroke-width="0.25">0</text>
<line x1="57.80" y1="663.95" x2="63.00" y2="663.95" stroke="#231f20" stroke-width="1.9"/>
<text x="48.73" y="668.85" font-size="14.0" textLength="7.32" lengthAdjust="spacingAndGlyphs" stroke="#231f20" stroke-width="0.25">5</text>
<line x1="57.80" y1="619.00" x2="63.00" y2="619.00" stroke="#231f20" stroke-width="1.9"/>
<text x="41.38" y="623.90" font-size="14.0" textLength="14.64" lengthAdjust="spacingAndGlyphs" stroke="#231f20" stroke-width="0.25">10</text>
<line x1="57.80" y1="574.05" x2="63.00" y2="574.05" stroke="#231f20" stroke-width="1.9"/>
<text x="41.41" y="578.95" font-size="14.0" textLength="14.64" lengthAdjust="spacingAndGlyphs" stroke="#231f20" stroke-width="0.25">15</text>
<line x1="62.05" y1="708.90" x2="241.80" y2="708.90" stroke="#231f20" stroke-width="1.9"/>
<line x1="70.50" y1="708.90" x2="70.50" y2="714.80" stroke="#231f20" stroke-width="1.9"/>
<line x1="81.80" y1="708.90" x2="81.80" y2="714.80" stroke="#231f20" stroke-width="1.9"/>
<line x1="100.90" y1="708.90" x2="100.90" y2="714.80" stroke="#231f20" stroke-width="1.9"/>
<line x1="112.30" y1="708.90" x2="112.30" y2="714.80" stroke="#231f20" stroke-width="1.9"/>
<line x1="131.40" y1="708.90" x2="131.40" y2="714.80" stroke="#231f20" stroke-width="1.9"/>
<line x1="142.70" y1="708.90" x2="142.70" y2="714.80" stroke="#231f20" stroke-width="1.9"/>
<line x1="162.10" y1="708.90" x2="162.10" y2="714.80" stroke="#231f20" stroke-width="1.9"/>
<line x1="173.00" y1="708.90" x2="173.00" y2="714.80" stroke="#231f20" stroke-width="1.9"/>
<line x1="192.00" y1="708.90" x2="192.00" y2="714.80" stroke="#231f20" stroke-width="1.9"/>
<line x1="203.80" y1="708.90" x2="203.80" y2="714.80" stroke="#231f20" stroke-width="1.9"/>
<line x1="222.50" y1="708.90" x2="222.50" y2="714.80" stroke="#231f20" stroke-width="1.9"/>
<line x1="234.30" y1="708.90" x2="234.30" y2="714.80" stroke="#231f20" stroke-width="1.9"/>
<text x="65.58" y="727.30" font-size="13.8" textLength="7.45" lengthAdjust="spacingAndGlyphs" stroke="#231f20" stroke-width="0.25">0</text>
<text x="75.97" y="727.30" font-size="13.8" textLength="13.61" lengthAdjust="spacingAndGlyphs" stroke="#231f20" stroke-width="0.25">10</text>
<text x="95.98" y="727.30" font-size="13.8" textLength="7.45" lengthAdjust="spacingAndGlyphs" stroke="#231f20" stroke-width="0.25">0</text>
<text x="106.47" y="727.30" font-size="13.8" textLength="13.61" lengthAdjust="spacingAndGlyphs" stroke="#231f20" stroke-width="0.25">10</text>
<text x="126.48" y="727.30" font-size="13.8" textLength="7.45" lengthAdjust="spacingAndGlyphs" stroke="#231f20" stroke-width="0.25">0</text>
<text x="136.87" y="727.30" font-size="13.8" textLength="13.61" lengthAdjust="spacingAndGlyphs" stroke="#231f20" stroke-width="0.25">10</text>
<text x="157.18" y="727.30" font-size="13.8" textLength="7.45" lengthAdjust="spacingAndGlyphs" stroke="#231f20" stroke-width="0.25">0</text>
<text x="167.17" y="727.30" font-size="13.8" textLength="13.61" lengthAdjust="spacingAndGlyphs" stroke="#231f20" stroke-width="0.25">10</text>
<text x="187.08" y="727.30" font-size="13.8" textLength="7.45" lengthAdjust="spacingAndGlyphs" stroke="#231f20" stroke-width="0.25">0</text>
<text x="197.97" y="727.30" font-size="13.8" textLength="13.61" lengthAdjust="spacingAndGlyphs" stroke="#231f20" stroke-width="0.25">10</text>
<text x="217.58" y="727.30" font-size="13.8" textLength="7.45" lengthAdjust="spacingAndGlyphs" stroke="#231f20" stroke-width="0.25">0</text>
<text x="228.47" y="727.30" font-size="13.8" textLength="13.61" lengthAdjust="spacingAndGlyphs" stroke="#231f20" stroke-width="0.25">10</text>
<text x="61.61" y="744.20" font-size="14.5" textLength="177.30" lengthAdjust="spacingAndGlyphs" stroke="#231f20" stroke-width="0.25">PMA concentration (ng/mL)</text>
<text x="17.30" y="703.63" font-size="15.0" textLength="118.67" lengthAdjust="spacingAndGlyphs" transform="rotate(-90 17.30 703.63)" stroke="#231f20" stroke-width="0.25">CD16a expression</text>
<text x="34.90" y="679.00" font-size="15.0" textLength="70.60" lengthAdjust="spacingAndGlyphs" transform="rotate(-90 34.90 679.00)" stroke="#231f20" stroke-width="0.25"><tspan>(MFI x 10</tspan><tspan font-size="8.25" dy="-4.60">4</tspan><tspan dy="4.60">)</tspan></text>
<text x="66.93" y="576.60" font-size="14.0" textLength="42.35" lengthAdjust="spacingAndGlyphs" stroke="#231f20" stroke-width="0.25">Control</text>
<text x="71.66" y="588.30" font-size="14.0" textLength="34.86" lengthAdjust="spacingAndGlyphs" stroke="#231f20" stroke-width="0.25">vector</text>
<line x1="120.90" y1="575.70" x2="120.90" y2="707.50" stroke="#231f20" stroke-width="1.3" stroke-dasharray="1.2 2.66"/>
<line x1="183.60" y1="575.70" x2="183.60" y2="707.50" stroke="#231f20" stroke-width="1.3" stroke-dasharray="1.2 2.66"/>
<text x="123.13" y="581.60" font-size="14.2" fill="#0b7b3e" textLength="40.97" lengthAdjust="spacingAndGlyphs" stroke="#0b7b3e" stroke-width="0.25">CD16a</text>
<text x="165.16" y="575.10" font-size="9.2" fill="#0b7b3e" textLength="14.66" lengthAdjust="spacingAndGlyphs" stroke="#0b7b3e" stroke-width="0.25">WT</text>
<text x="188.23" y="581.70" font-size="14.2" fill="#3a5ca8" textLength="41.07" lengthAdjust="spacingAndGlyphs" stroke="#3a5ca8" stroke-width="0.25">CD16a</text>
<text x="230.15" y="575.10" font-size="9.2" fill="#3a5ca8" textLength="29.46" lengthAdjust="spacingAndGlyphs" stroke="#3a5ca8" stroke-width="0.25">S197P</text>
<text x="79.53" y="684.40" font-size="11.6" textLength="18.65" lengthAdjust="spacingAndGlyphs" font-style="italic" stroke="#231f20" stroke-width="0.25">Not</text>
<text x="67.80" y="696.20" font-size="11.6" textLength="44.99" lengthAdjust="spacingAndGlyphs" font-style="italic" stroke="#231f20" stroke-width="0.25">detected</text>
<circle cx="68.30" cy="708.2" r="1.2" fill="#231f20"/>
<circle cx="70.50" cy="708.2" r="1.2" fill="#231f20"/>
<circle cx="72.70" cy="708.2" r="1.2" fill="#231f20"/>
<circle cx="79.60" cy="708.2" r="1.2" fill="#231f20"/>
<circle cx="81.80" cy="708.2" r="1.2" fill="#231f20"/>
<circle cx="84.00" cy="708.2" r="1.2" fill="#231f20"/>
<circle cx="98.70" cy="708.2" r="1.2" fill="#231f20"/>
<circle cx="100.90" cy="708.2" r="1.2" fill="#231f20"/>
<circle cx="103.10" cy="708.2" r="1.2" fill="#231f20"/>
<circle cx="110.10" cy="708.2" r="1.2" fill="#231f20"/>
<circle cx="112.30" cy="708.2" r="1.2" fill="#231f20"/>
<circle cx="114.50" cy="708.2" r="1.2" fill="#231f20"/>
<rect x="128.40" y="637.20" width="6.60" height="71.70" fill="white" stroke="#0b7b3e" stroke-width="1.6"/>
<circle cx="129.40" cy="637.00" r="1.35" fill="#231f20"/>
<circle cx="131.70" cy="636.10" r="1.35" fill="#231f20"/>
<circle cx="134.00" cy="636.80" r="1.35" fill="#231f20"/>
<rect x="139.90" y="701.30" width="6.00" height="7.60" fill="white" stroke="#0b7b3e" stroke-width="1.6"/>
<circle cx="140.60" cy="701.10" r="1.35" fill="#231f20"/>
<circle cx="142.90" cy="700.20" r="1.35" fill="#231f20"/>
<circle cx="145.20" cy="700.90" r="1.35" fill="#231f20"/>
<rect x="158.10" y="650.40" width="7.70" height="58.50" fill="#0b7b3e"/>
<circle cx="159.65" cy="651.00" r="1.35" fill="#231f20"/>
<circle cx="161.95" cy="650.10" r="1.35" fill="#231f20"/>
<circle cx="164.25" cy="650.80" r="1.35" fill="#231f20"/>
<rect x="169.40" y="661.80" width="7.40" height="47.10" fill="#0b7b3e"/>
<circle cx="170.80" cy="662.40" r="1.35" fill="#231f20"/>
<circle cx="173.10" cy="661.50" r="1.35" fill="#231f20"/>
<circle cx="175.40" cy="662.20" r="1.35" fill="#231f20"/>
<rect x="189.10" y="623.30" width="6.20" height="85.60" fill="white" stroke="#3a5ca8" stroke-width="1.6"/>
<circle cx="189.90" cy="623.10" r="1.35" fill="#231f20"/>
<circle cx="192.20" cy="622.20" r="1.35" fill="#231f20"/>
<circle cx="194.50" cy="622.90" r="1.35" fill="#231f20"/>
<rect x="200.90" y="630.10" width="5.90" height="78.80" fill="white" stroke="#3a5ca8" stroke-width="1.6"/>
<circle cx="201.55" cy="629.90" r="1.35" fill="#231f20"/>
<circle cx="203.85" cy="629.00" r="1.35" fill="#231f20"/>
<circle cx="206.15" cy="629.70" r="1.35" fill="#231f20"/>
<rect x="219.30" y="641.30" width="7.30" height="67.60" fill="#3a5ca8"/>
<circle cx="220.65" cy="641.90" r="1.35" fill="#231f20"/>
<circle cx="222.95" cy="641.00" r="1.35" fill="#231f20"/>
<circle cx="225.25" cy="641.70" r="1.35" fill="#231f20"/>
<rect x="230.60" y="648.20" width="7.20" height="60.70" fill="#3a5ca8"/>
<circle cx="231.90" cy="648.80" r="1.35" fill="#231f20"/>
<circle cx="234.20" cy="647.90" r="1.35" fill="#231f20"/>
<circle cx="236.50" cy="648.60" r="1.35" fill="#231f20"/>
<line x1="130.00" y1="629.70" x2="144.70" y2="629.70" stroke="#231f20" stroke-width="1.5"/>
<path d="M129.96,625.35L129.96,623.00M129.96,625.35L132.19,624.62M129.96,625.35L131.34,627.25M129.96,625.35L128.58,627.25M129.96,625.35L127.72,624.62" stroke="#231f20" stroke-width="1.25" stroke-linecap="round" fill="none"/>
<path d="M136.90,625.35L136.90,623.00M136.90,625.35L139.13,624.62M136.90,625.35L138.28,627.25M136.90,625.35L135.52,627.25M136.90,625.35L134.67,624.62" stroke="#231f20" stroke-width="1.25" stroke-linecap="round" fill="none"/>
<path d="M143.84,625.35L143.84,623.00M143.84,625.35L146.08,624.62M143.84,625.35L145.22,627.25M143.84,625.35L142.46,627.25M143.84,625.35L141.61,624.62" stroke="#231f20" stroke-width="1.25" stroke-linecap="round" fill="none"/>
<line x1="144.70" y1="644.70" x2="173.40" y2="644.70" stroke="#231f20" stroke-width="1.5"/>
<path d="M151.56,639.80L151.56,637.45M151.56,639.80L153.79,639.07M151.56,639.80L152.94,641.70M151.56,639.80L150.18,641.70M151.56,639.80L149.32,639.07" stroke="#231f20" stroke-width="1.25" stroke-linecap="round" fill="none"/>
<path d="M158.60,639.80L158.60,637.45M158.60,639.80L160.83,639.07M158.60,639.80L159.98,641.70M158.60,639.80L157.22,641.70M158.60,639.80L156.37,639.07" stroke="#231f20" stroke-width="1.25" stroke-linecap="round" fill="none"/>
<path d="M165.64,639.80L165.64,637.45M165.64,639.80L167.88,639.07M165.64,639.80L167.02,641.70M165.64,639.80L164.26,641.70M165.64,639.80L163.41,639.07" stroke="#231f20" stroke-width="1.25" stroke-linecap="round" fill="none"/>
<text x="244.07" y="679.20" font-size="13.5" textLength="42.85" lengthAdjust="spacingAndGlyphs" stroke="#231f20" stroke-width="0.25">Isotype:</text>
<text x="254.01" y="703.90" font-size="13.5" textLength="32.89" lengthAdjust="spacingAndGlyphs" stroke="#231f20" stroke-width="0.25">F9H4:</text>
<rect x="288.95" y="669.15" width="12.50" height="12.90" fill="white" stroke="#231f20" stroke-width="2.5"/>
<rect x="308.25" y="669.15" width="12.80" height="12.90" fill="white" stroke="#0b7b3e" stroke-width="2.5"/>
<rect x="328.25" y="669.15" width="13.00" height="12.90" fill="white" stroke="#3a5ca8" stroke-width="2.5"/>
<rect x="288.30" y="692.8" width="13.40" height="13.5" fill="#231f20"/>
<rect x="307.70" y="692.8" width="14.10" height="13.5" fill="#0b7b3e"/>
<rect x="327.90" y="692.8" width="14.10" height="13.5" fill="#3a5ca8"/>
<text x="299.80" y="663.99" font-size="13.2" textLength="72.59" lengthAdjust="spacingAndGlyphs" transform="rotate(-90 299.80 663.99)" stroke="#231f20" stroke-width="0.25">Control vector</text>
<text x="321.40" y="663.81" font-size="13.2" fill="#0b7b3e" textLength="37.31" lengthAdjust="spacingAndGlyphs" transform="rotate(-90 321.40 663.81)" stroke="#0b7b3e" stroke-width="0.25">CD16a</text>
<text x="314.80" y="624.84" font-size="8.6" fill="#0b7b3e" textLength="12.72" lengthAdjust="spacingAndGlyphs" transform="rotate(-90 314.80 624.84)" stroke="#0b7b3e" stroke-width="0.25">WT</text>
<text x="341.30" y="663.80" font-size="13.2" fill="#3a5ca8" textLength="36.80" lengthAdjust="spacingAndGlyphs" transform="rotate(-90 341.30 663.80)" stroke="#3a5ca8" stroke-width="0.25">CD16a</text>
<text x="335.00" y="625.39" font-size="8.6" fill="#3a5ca8" textLength="26.05" lengthAdjust="spacingAndGlyphs" transform="rotate(-90 335.00 625.39)" stroke="#3a5ca8" stroke-width="0.25">S197P</text>
<text x="371.24" y="550.00" font-size="23" textLength="7.72" lengthAdjust="spacingAndGlyphs" font-weight="bold">I</text>
<text x="443.54" y="549.40" font-size="14.3" textLength="123.63" lengthAdjust="spacingAndGlyphs" stroke="#231f20" stroke-width="0.25">PMA-treated NK cells</text>
<line x1="422.60" y1="575.45" x2="422.60" y2="708.15" stroke="#231f20" stroke-width="1.9"/>
<line x1="416.10" y1="707.20" x2="422.60" y2="707.20" stroke="#231f20" stroke-width="1.9"/>
<text x="406.30" y="712.10" font-size="14.0" textLength="7.32" lengthAdjust="spacingAndGlyphs" stroke="#231f20" stroke-width="0.25">0</text>
<line x1="416.10" y1="681.04" x2="422.60" y2="681.04" stroke="#231f20" stroke-width="1.9"/>
<text x="398.98" y="685.94" font-size="14.0" textLength="14.64" lengthAdjust="spacingAndGlyphs" stroke="#231f20" stroke-width="0.25">20</text>
<line x1="416.10" y1="654.88" x2="422.60" y2="654.88" stroke="#231f20" stroke-width="1.9"/>
<text x="398.98" y="659.78" font-size="14.0" textLength="14.64" lengthAdjust="spacingAndGlyphs" stroke="#231f20" stroke-width="0.25">40</text>
<line x1="416.10" y1="628.72" x2="422.60" y2="628.72" stroke="#231f20" stroke-width="1.9"/>
<text x="398.98" y="633.62" font-size="14.0" textLength="14.64" lengthAdjust="spacingAndGlyphs" stroke="#231f20" stroke-width="0.25">60</text>
<line x1="416.10" y1="602.56" x2="422.60" y2="602.56" stroke="#231f20" stroke-width="1.9"/>
<text x="398.98" y="607.46" font-size="14.0" textLength="14.64" lengthAdjust="spacingAndGlyphs" stroke="#231f20" stroke-width="0.25">80</text>
<line x1="416.10" y1="576.40" x2="422.60" y2="576.40" stroke="#231f20" stroke-width="1.9"/>
<text x="391.66" y="581.30" font-size="14.0" textLength="21.96" lengthAdjust="spacingAndGlyphs" stroke="#231f20" stroke-width="0.25">100</text>
<line x1="421.65" y1="707.20" x2="594.75" y2="707.20" stroke="#231f20" stroke-width="1.9"/>
<line x1="422.30" y1="707.20" x2="422.30" y2="714.40" stroke="#231f20" stroke-width="1.9"/>
<text x="410.81" y="729.30" font-size="13.8" textLength="23.21" lengthAdjust="spacingAndGlyphs" stroke="#231f20" stroke-width="0.25"><tspan>10</tspan><tspan font-size="10.21" dy="-3.00">-3</tspan></text>
<line x1="456.60" y1="707.20" x2="456.60" y2="714.40" stroke="#231f20" stroke-width="1.9"/>
<text x="445.14" y="729.30" font-size="13.8" textLength="23.21" lengthAdjust="spacingAndGlyphs" stroke="#231f20" stroke-width="0.25"><tspan>10</tspan><tspan font-size="10.21" dy="-3.00">-2</tspan></text>
<line x1="490.90" y1="707.20" x2="490.90" y2="714.40" stroke="#231f20" stroke-width="1.9"/>
<text x="479.43" y="729.30" font-size="13.8" textLength="23.21" lengthAdjust="spacingAndGlyphs" stroke="#231f20" stroke-width="0.25"><tspan>10</tspan><tspan font-size="10.21" dy="-3.00">-1</tspan></text>
<line x1="525.20" y1="707.20" x2="525.20" y2="714.40" stroke="#231f20" stroke-width="1.9"/>
<text x="515.30" y="729.30" font-size="13.8" textLength="19.98" lengthAdjust="spacingAndGlyphs" stroke="#231f20" stroke-width="0.25"><tspan>10</tspan><tspan font-size="10.21" dy="-3.00">0</tspan></text>
<line x1="559.50" y1="707.20" x2="559.50" y2="714.40" stroke="#231f20" stroke-width="1.9"/>
<text x="549.65" y="729.30" font-size="13.8" textLength="19.98" lengthAdjust="spacingAndGlyphs" stroke="#231f20" stroke-width="0.25"><tspan>10</tspan><tspan font-size="10.21" dy="-3.00">1</tspan></text>
<line x1="593.80" y1="707.20" x2="593.80" y2="714.40" stroke="#231f20" stroke-width="1.9"/>
<text x="583.96" y="729.30" font-size="13.8" textLength="19.98" lengthAdjust="spacingAndGlyphs" stroke="#231f20" stroke-width="0.25"><tspan>10</tspan><tspan font-size="10.21" dy="-3.00">2</tspan></text>
<text x="414.33" y="743.80" font-size="14.3" textLength="175.67" lengthAdjust="spacingAndGlyphs" stroke="#231f20" stroke-width="0.25">mAb concentration (µg/mL)</text>
<text x="387.90" y="727.53" font-size="15.0" textLength="145.03" lengthAdjust="spacingAndGlyphs" transform="rotate(-90 387.90 727.53)" stroke="#231f20" stroke-width="0.25">CD16a expression (%)</text>
<polyline points="456.60,698.70 472.97,700.01 490.90,696.08 507.27,699.35 525.20,699.35 541.57,698.83 559.50,698.57" fill="none" stroke="#3a5ca8" stroke-width="1.8" stroke-linejoin="round"/>
<polygon points="456.60,695.35 453.50,700.75 459.70,700.75" fill="white" stroke="#3a5ca8" stroke-width="1.4" stroke-linejoin="miter"/>
<polygon points="472.97,696.66 469.87,702.06 476.07,702.06" fill="white" stroke="#3a5ca8" stroke-width="1.4" stroke-linejoin="miter"/>
<polygon points="490.90,692.74 487.80,698.13 494.00,698.13" fill="white" stroke="#3a5ca8" stroke-width="1.4" stroke-linejoin="miter"/>
<polygon points="507.27,696.01 504.17,701.40 510.37,701.40" fill="white" stroke="#3a5ca8" stroke-width="1.4" stroke-linejoin="miter"/>
<polygon points="525.20,696.01 522.10,701.40 528.30,701.40" fill="white" stroke="#3a5ca8" stroke-width="1.4" stroke-linejoin="miter"/>
<polygon points="541.57,695.48 538.47,700.88 544.67,700.88" fill="white" stroke="#3a5ca8" stroke-width="1.4" stroke-linejoin="miter"/>
<polygon points="559.50,695.22 556.40,700.62 562.60,700.62" fill="white" stroke="#3a5ca8" stroke-width="1.4" stroke-linejoin="miter"/>
<polyline points="456.60,699.74 472.97,698.04 490.90,699.35 507.27,698.83 525.20,697.13 541.57,698.44 559.50,696.61" fill="none" stroke="#231f20" stroke-width="1.9" stroke-linejoin="round"/>
<ellipse cx="456.60" cy="699.74" rx="3.0" ry="3.1" fill="#231f20"/>
<ellipse cx="472.97" cy="698.04" rx="3.0" ry="3.1" fill="#231f20"/>
<ellipse cx="490.90" cy="699.35" rx="3.0" ry="3.1" fill="#231f20"/>
<ellipse cx="507.27" cy="698.83" rx="3.0" ry="3.1" fill="#231f20"/>
<ellipse cx="525.20" cy="697.13" rx="3.0" ry="3.1" fill="#231f20"/>
<ellipse cx="541.57" cy="698.44" rx="3.0" ry="3.1" fill="#231f20"/>
<ellipse cx="559.50" cy="696.61" rx="3.0" ry="3.1" fill="#231f20"/>
<polyline points="456.60,696.74 472.97,695.43 490.90,684.18 507.27,641.41 525.20,618.52 541.57,612.24 559.50,609.36" fill="none" stroke="#a9b937" stroke-width="1.9" stroke-linejoin="round"/>
<line x1="456.60" y1="696.34" x2="456.60" y2="697.13" stroke="#a9b937" stroke-width="1.5"/>
<line x1="453.80" y1="696.34" x2="459.40" y2="696.34" stroke="#a9b937" stroke-width="1.5"/>
<line x1="453.80" y1="697.13" x2="459.40" y2="697.13" stroke="#a9b937" stroke-width="1.5"/>
<rect x="453.60" y="693.74" width="6.0" height="6.0" fill="#a9b937"/>
<line x1="472.97" y1="695.04" x2="472.97" y2="695.82" stroke="#a9b937" stroke-width="1.5"/>
<line x1="470.17" y1="695.04" x2="475.77" y2="695.04" stroke="#a9b937" stroke-width="1.5"/>
<line x1="470.17" y1="695.82" x2="475.77" y2="695.82" stroke="#a9b937" stroke-width="1.5"/>
<rect x="469.97" y="692.43" width="6.0" height="6.0" fill="#a9b937"/>
<line x1="490.90" y1="683.53" x2="490.90" y2="684.83" stroke="#a9b937" stroke-width="1.5"/>
<line x1="488.10" y1="683.53" x2="493.70" y2="683.53" stroke="#a9b937" stroke-width="1.5"/>
<line x1="488.10" y1="684.83" x2="493.70" y2="684.83" stroke="#a9b937" stroke-width="1.5"/>
<rect x="487.90" y="681.18" width="6.0" height="6.0" fill="#a9b937"/>
<line x1="507.27" y1="640.75" x2="507.27" y2="642.06" stroke="#a9b937" stroke-width="1.5"/>
<line x1="504.47" y1="640.75" x2="510.07" y2="640.75" stroke="#a9b937" stroke-width="1.5"/>
<line x1="504.47" y1="642.06" x2="510.07" y2="642.06" stroke="#a9b937" stroke-width="1.5"/>
<rect x="504.27" y="638.41" width="6.0" height="6.0" fill="#a9b937"/>
<line x1="525.20" y1="614.59" x2="525.20" y2="622.44" stroke="#a9b937" stroke-width="1.5"/>
<line x1="522.40" y1="614.59" x2="528.00" y2="614.59" stroke="#a9b937" stroke-width="1.5"/>
<line x1="522.40" y1="622.44" x2="528.00" y2="622.44" stroke="#a9b937" stroke-width="1.5"/>
<rect x="522.20" y="615.52" width="6.0" height="6.0" fill="#a9b937"/>
<line x1="541.57" y1="611.59" x2="541.57" y2="612.89" stroke="#a9b937" stroke-width="1.5"/>
<line x1="538.77" y1="611.59" x2="544.37" y2="611.59" stroke="#a9b937" stroke-width="1.5"/>
<line x1="538.77" y1="612.89" x2="544.37" y2="612.89" stroke="#a9b937" stroke-width="1.5"/>
<rect x="538.57" y="609.24" width="6.0" height="6.0" fill="#a9b937"/>
<line x1="559.50" y1="608.71" x2="559.50" y2="610.02" stroke="#a9b937" stroke-width="1.5"/>
<line x1="556.70" y1="608.71" x2="562.30" y2="608.71" stroke="#a9b937" stroke-width="1.5"/>
<line x1="556.70" y1="610.02" x2="562.30" y2="610.02" stroke="#a9b937" stroke-width="1.5"/>
<rect x="556.50" y="606.36" width="6.0" height="6.0" fill="#a9b937"/>
<path d="M489.46,635.25L489.46,632.90M489.46,635.25L491.69,634.52M489.46,635.25L490.84,637.15M489.46,635.25L488.08,637.15M489.46,635.25L487.22,634.52" stroke="#231f20" stroke-width="1.25" stroke-linecap="round" fill="none"/>
<path d="M496.40,635.25L496.40,632.90M496.40,635.25L498.63,634.52M496.40,635.25L497.78,637.15M496.40,635.25L495.02,637.15M496.40,635.25L494.17,634.52" stroke="#231f20" stroke-width="1.25" stroke-linecap="round" fill="none"/>
<path d="M503.34,635.25L503.34,632.90M503.34,635.25L505.58,634.52M503.34,635.25L504.72,637.15M503.34,635.25L501.96,637.15M503.34,635.25L501.11,634.52" stroke="#231f20" stroke-width="1.25" stroke-linecap="round" fill="none"/>
<path d="M502.96,619.35L502.96,617.00M502.96,619.35L505.19,618.62M502.96,619.35L504.34,621.25M502.96,619.35L501.58,621.25M502.96,619.35L500.72,618.62" stroke="#231f20" stroke-width="1.25" stroke-linecap="round" fill="none"/>
<path d="M509.90,619.35L509.90,617.00M509.90,619.35L512.13,618.62M509.90,619.35L511.28,621.25M509.90,619.35L508.52,621.25M509.90,619.35L507.67,618.62" stroke="#231f20" stroke-width="1.25" stroke-linecap="round" fill="none"/>
<path d="M516.84,619.35L516.84,617.00M516.84,619.35L519.08,618.62M516.84,619.35L518.22,621.25M516.84,619.35L515.46,621.25M516.84,619.35L514.61,618.62" stroke="#231f20" stroke-width="1.25" stroke-linecap="round" fill="none"/>
<path d="M537.16,605.25L537.16,602.90M537.16,605.25L539.39,604.52M537.16,605.25L538.54,607.15M537.16,605.25L535.78,607.15M537.16,605.25L534.92,604.52" stroke="#231f20" stroke-width="1.25" stroke-linecap="round" fill="none"/>
<path d="M544.10,605.25L544.10,602.90M544.10,605.25L546.33,604.52M544.10,605.25L545.48,607.15M544.10,605.25L542.72,607.15M544.10,605.25L541.87,604.52" stroke="#231f20" stroke-width="1.25" stroke-linecap="round" fill="none"/>
<path d="M551.04,605.25L551.04,602.90M551.04,605.25L553.28,604.52M551.04,605.25L552.42,607.15M551.04,605.25L549.66,607.15M551.04,605.25L548.81,604.52" stroke="#231f20" stroke-width="1.25" stroke-linecap="round" fill="none"/>
<path d="M565.06,603.95L565.06,601.60M565.06,603.95L567.29,603.22M565.06,603.95L566.44,605.85M565.06,603.95L563.68,605.85M565.06,603.95L562.82,603.22" stroke="#231f20" stroke-width="1.25" stroke-linecap="round" fill="none"/>
<path d="M572.00,603.95L572.00,601.60M572.00,603.95L574.23,603.22M572.00,603.95L573.38,605.85M572.00,603.95L570.62,605.85M572.00,603.95L569.77,603.22" stroke="#231f20" stroke-width="1.25" stroke-linecap="round" fill="none"/>
<path d="M578.94,603.95L578.94,601.60M578.94,603.95L581.18,603.22M578.94,603.95L580.32,605.85M578.94,603.95L577.56,605.85M578.94,603.95L576.71,603.22" stroke="#231f20" stroke-width="1.25" stroke-linecap="round" fill="none"/>
<line x1="427.00" y1="569.90" x2="445.80" y2="569.90" stroke="#a9b937" stroke-width="1.8"/>
<rect x="432.85" y="566.25" width="7.3" height="7.3" fill="#a9b937"/>
<text x="448.30" y="574.80" font-size="14.0" fill="#a9b937" textLength="125.52" lengthAdjust="spacingAndGlyphs" stroke="#a9b937" stroke-width="0.25">F9H4-hIgG1-DANA</text>
<line x1="427.00" y1="585.80" x2="445.80" y2="585.80" stroke="#231f20" stroke-width="1.8"/>
<ellipse cx="436.30" cy="585.80" rx="3.6" ry="3.5" fill="#231f20"/>
<text x="448.50" y="591.10" font-size="14.0" textLength="88.74" lengthAdjust="spacingAndGlyphs" stroke="#231f20" stroke-width="0.25">hIgG1 isotype</text>
<line x1="427.00" y1="609.70" x2="445.80" y2="609.70" stroke="#3a5ca8" stroke-width="1.8"/>
<polygon points="436.60,606.42 433.10,612.51 440.10,612.51" fill="white" stroke="#3a5ca8" stroke-width="1.6" stroke-linejoin="miter"/>
<text x="448.50" y="607.00" font-size="14.0" fill="#3a5ca8" textLength="84.43" lengthAdjust="spacingAndGlyphs" stroke="#3a5ca8" stroke-width="0.25">hIgG1-DANA</text>
<text x="449.14" y="622.40" font-size="14.0" fill="#3a5ca8" textLength="45.50" lengthAdjust="spacingAndGlyphs" stroke="#3a5ca8" stroke-width="0.25">isotype</text>
</svg></body></html>
